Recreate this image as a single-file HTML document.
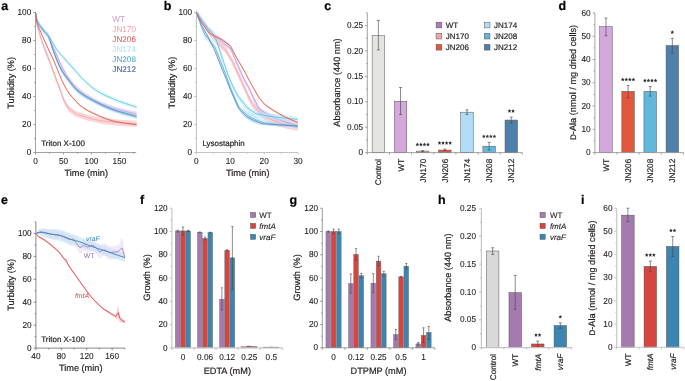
<!DOCTYPE html><html><head><meta charset="utf-8"><style>html,body{margin:0;padding:0;background:#fff;}svg{display:block;}</style></head><body>
<svg width="685" height="381" viewBox="0 0 685 381" font-family='"Liberation Sans", sans-serif'>
<defs><filter id="soft" x="0" y="0" width="100%" height="100%" filterUnits="userSpaceOnUse"><feGaussianBlur stdDeviation="0.3"/></filter></defs>
<rect width="685" height="381" fill="#fff"/>
<g filter="url(#soft)">
<text x="0" y="0" font-size="12.5" text-anchor="start" fill="#000" stroke="#000" stroke-width="0.2" font-weight="bold" transform="translate(1.2 10.3) skewX(0.1)">a</text>
<text x="0" y="0" font-size="12.5" text-anchor="start" fill="#000" stroke="#000" stroke-width="0.2" font-weight="bold" transform="translate(163.8 10.3) skewX(0.1)">b</text>
<text x="0" y="0" font-size="12.5" text-anchor="start" fill="#000" stroke="#000" stroke-width="0.2" font-weight="bold" transform="translate(324.2 10.3) skewX(0.1)">c</text>
<text x="0" y="0" font-size="12.5" text-anchor="start" fill="#000" stroke="#000" stroke-width="0.2" font-weight="bold" transform="translate(558.4 10.3) skewX(0.1)">d</text>
<text x="0" y="0" font-size="12.5" text-anchor="start" fill="#000" stroke="#000" stroke-width="0.2" font-weight="bold" transform="translate(0.9 204.4) skewX(0.1)">e</text>
<text x="0" y="0" font-size="12.5" text-anchor="start" fill="#000" stroke="#000" stroke-width="0.2" font-weight="bold" transform="translate(140 204.4) skewX(0.1)">f</text>
<text x="0" y="0" font-size="12.5" text-anchor="start" fill="#000" stroke="#000" stroke-width="0.2" font-weight="bold" transform="translate(289.4 204.4) skewX(0.1)">g</text>
<text x="0" y="0" font-size="12.5" text-anchor="start" fill="#000" stroke="#000" stroke-width="0.2" font-weight="bold" transform="translate(438 204.4) skewX(0.1)">h</text>
<text x="0" y="0" font-size="12.5" text-anchor="start" fill="#000" stroke="#000" stroke-width="0.2" font-weight="bold" transform="translate(581 204.4) skewX(0.1)">i</text>
<line x1="35.5" y1="152.5" x2="35.5" y2="12.5" stroke="#8a8a8a" stroke-width="0.8"/>
<line x1="33.3" y1="152.5" x2="35.5" y2="152.5" stroke="#8a8a8a" stroke-width="0.8"/>
<text x="0" y="0" font-size="8.7" text-anchor="end" fill="#231f20" stroke="#231f20" stroke-width="0.1" transform="translate(31.3 155.1) skewX(0.1) scale(0.95 1)">0</text>
<line x1="33.3" y1="124.5" x2="35.5" y2="124.5" stroke="#8a8a8a" stroke-width="0.8"/>
<text x="0" y="0" font-size="8.7" text-anchor="end" fill="#231f20" stroke="#231f20" stroke-width="0.1" transform="translate(31.3 127.1) skewX(0.1) scale(0.95 1)">20</text>
<line x1="33.3" y1="96.5" x2="35.5" y2="96.5" stroke="#8a8a8a" stroke-width="0.8"/>
<text x="0" y="0" font-size="8.7" text-anchor="end" fill="#231f20" stroke="#231f20" stroke-width="0.1" transform="translate(31.3 99.1) skewX(0.1) scale(0.95 1)">40</text>
<line x1="33.3" y1="68.5" x2="35.5" y2="68.5" stroke="#8a8a8a" stroke-width="0.8"/>
<text x="0" y="0" font-size="8.7" text-anchor="end" fill="#231f20" stroke="#231f20" stroke-width="0.1" transform="translate(31.3 71.1) skewX(0.1) scale(0.95 1)">60</text>
<line x1="33.3" y1="40.5" x2="35.5" y2="40.5" stroke="#8a8a8a" stroke-width="0.8"/>
<text x="0" y="0" font-size="8.7" text-anchor="end" fill="#231f20" stroke="#231f20" stroke-width="0.1" transform="translate(31.3 43.1) skewX(0.1) scale(0.95 1)">80</text>
<line x1="33.3" y1="12.5" x2="35.5" y2="12.5" stroke="#8a8a8a" stroke-width="0.8"/>
<text x="0" y="0" font-size="8.7" text-anchor="end" fill="#231f20" stroke="#231f20" stroke-width="0.1" transform="translate(31.3 15.1) skewX(0.1) scale(0.95 1)">100</text>
<line x1="34.2" y1="138.5" x2="35.5" y2="138.5" stroke="#8a8a8a" stroke-width="0.8"/>
<line x1="34.2" y1="110.5" x2="35.5" y2="110.5" stroke="#8a8a8a" stroke-width="0.8"/>
<line x1="34.2" y1="82.5" x2="35.5" y2="82.5" stroke="#8a8a8a" stroke-width="0.8"/>
<line x1="34.2" y1="54.5" x2="35.5" y2="54.5" stroke="#8a8a8a" stroke-width="0.8"/>
<line x1="34.2" y1="26.5" x2="35.5" y2="26.5" stroke="#8a8a8a" stroke-width="0.8"/>
<line x1="35.5" y1="152.5" x2="136.21" y2="152.5" stroke="#8a8a8a" stroke-width="0.8"/>
<line x1="35.5" y1="152.5" x2="35.5" y2="154.5" stroke="#8a8a8a" stroke-width="0.8"/>
<text x="0" y="0" font-size="8.7" text-anchor="middle" fill="#231f20" stroke="#231f20" stroke-width="0.1" transform="translate(35.5 163.5) skewX(0.1) scale(0.95 1)">0</text>
<line x1="63.48" y1="152.5" x2="63.48" y2="154.5" stroke="#8a8a8a" stroke-width="0.8"/>
<text x="0" y="0" font-size="8.7" text-anchor="middle" fill="#231f20" stroke="#231f20" stroke-width="0.1" transform="translate(63.48 163.5) skewX(0.1) scale(0.95 1)">50</text>
<line x1="91.45" y1="152.5" x2="91.45" y2="154.5" stroke="#8a8a8a" stroke-width="0.8"/>
<text x="0" y="0" font-size="8.7" text-anchor="middle" fill="#231f20" stroke="#231f20" stroke-width="0.1" transform="translate(91.45 163.5) skewX(0.1) scale(0.95 1)">100</text>
<line x1="119.42" y1="152.5" x2="119.42" y2="154.5" stroke="#8a8a8a" stroke-width="0.8"/>
<text x="0" y="0" font-size="8.7" text-anchor="middle" fill="#231f20" stroke="#231f20" stroke-width="0.1" transform="translate(119.42 163.5) skewX(0.1) scale(0.95 1)">150</text>
<line x1="49.49" y1="152.5" x2="49.49" y2="153.8" stroke="#8a8a8a" stroke-width="0.8"/>
<line x1="77.46" y1="152.5" x2="77.46" y2="153.8" stroke="#8a8a8a" stroke-width="0.8"/>
<line x1="105.44" y1="152.5" x2="105.44" y2="153.8" stroke="#8a8a8a" stroke-width="0.8"/>
<line x1="133.41" y1="152.5" x2="133.41" y2="153.8" stroke="#8a8a8a" stroke-width="0.8"/>
<text x="0" y="0" font-size="9.2" text-anchor="middle" fill="#231f20" stroke="#231f20" stroke-width="0.2" transform="translate(86.2 175.5) skewX(0.1)">Time (min)</text>
<text x="0" y="0" font-size="9.2" text-anchor="middle" fill="#231f20" stroke="#231f20" stroke-width="0.2" transform="translate(13.9 82.8) rotate(-90) skewX(0.1)">Turbidity (%)</text>
<text x="0" y="0" font-size="8" text-anchor="start" fill="#231f20" stroke="#231f20" stroke-width="0.2" transform="translate(41.2 146) skewX(0.1)">Triton X-100</text>
<text x="0" y="0" font-size="8.2" text-anchor="start" fill="#c7a2dc" stroke="#c7a2dc" stroke-width="0.05" transform="translate(112.3 22.2) skewX(0.1)">WT</text>
<text x="0" y="0" font-size="8.2" text-anchor="start" fill="#f0a4a8" stroke="#f0a4a8" stroke-width="0.05" transform="translate(112.3 32.15) skewX(0.1)">JN170</text>
<text x="0" y="0" font-size="8.2" text-anchor="start" fill="#d9625a" stroke="#d9625a" stroke-width="0.05" transform="translate(112.3 42.1) skewX(0.1)">JN206</text>
<text x="0" y="0" font-size="8.2" text-anchor="start" fill="#b4e0f6" stroke="#b4e0f6" stroke-width="0.05" transform="translate(112.3 52.05) skewX(0.1)">JN174</text>
<text x="0" y="0" font-size="8.2" text-anchor="start" fill="#48a8cf" stroke="#48a8cf" stroke-width="0.05" transform="translate(112.3 62) skewX(0.1)">JN208</text>
<text x="0" y="0" font-size="8.2" text-anchor="start" fill="#3d6195" stroke="#3d6195" stroke-width="0.05" transform="translate(112.3 71.95) skewX(0.1)">JN212</text>
<path d="M35.5 9.42 C35.69 11.05 36.15 16.42 36.62 19.22 C37.09 22.02 37.55 23.54 38.3 26.22 C39.04 28.9 39.98 31.94 41.09 35.32 C42.21 38.7 43.68 42.9 45.01 46.52 C46.34 50.14 47.19 51.96 49.1 57.02 C51 62.08 54.59 72 56.43 76.9 C58.26 81.8 58.89 83.08 60.12 86.42 C61.35 89.76 62.43 93.84 63.81 96.92 C65.19 100 66.59 102.73 68.4 104.9 C70.21 107.07 72.57 108.68 74.66 109.94 C76.76 111.2 76.43 111.15 80.99 112.46 C85.55 113.77 92.76 116.38 102.02 117.78 C111.29 119.18 130.84 120.35 136.6 120.86 L136.6 127.02 C130.84 126.51 111.29 125.34 102.02 123.94 C92.76 122.54 85.55 119.93 80.99 118.62 C76.43 117.31 76.76 117.36 74.66 116.1 C72.57 114.84 70.21 113.23 68.4 111.06 C66.59 108.89 65.19 106.16 63.81 103.08 C62.43 100 61.35 95.92 60.12 92.58 C58.89 89.24 58.26 87.96 56.43 83.06 C54.59 78.16 51 68.24 49.1 63.18 C47.19 58.12 46.34 56.3 45.01 52.68 C43.68 49.06 42.21 44.86 41.09 41.48 C39.98 38.1 39.04 35.06 38.3 32.38 C37.55 29.7 37.09 28.18 36.62 25.38 C36.15 22.58 35.69 17.21 35.5 15.58 Z" fill="#f4a9ae" fill-opacity="0.45" stroke="none"/>
<path d="M35.5 12.5 C35.69 14.13 36.15 19.5 36.62 22.3 C37.09 25.1 37.55 26.62 38.3 29.3 C39.04 31.98 39.98 35.02 41.09 38.4 C42.21 41.78 43.68 45.98 45.01 49.6 C46.34 53.22 47.19 55.04 49.1 60.1 C51 65.16 54.59 75.08 56.43 79.98 C58.26 84.88 58.89 86.16 60.12 89.5 C61.35 92.84 62.43 96.92 63.81 100 C65.19 103.08 66.59 105.81 68.4 107.98 C70.21 110.15 72.57 111.76 74.66 113.02 C76.76 114.28 76.43 114.23 80.99 115.54 C85.55 116.85 92.76 119.46 102.02 120.86 C111.29 122.26 130.84 123.43 136.6 123.94" fill="none" stroke="#ef8f96" stroke-width="0.65" stroke-linejoin="round"/>
<path d="M35.5 10.26 C35.78 11.66 36.43 16.44 37.18 18.66 C37.92 20.88 38.77 21.81 39.98 23.56 C41.18 25.31 42.96 27.41 44.4 29.16 C45.83 30.91 47.18 31.61 48.59 34.06 C50 36.51 51.15 39.89 52.84 43.86 C54.54 47.83 57 53.89 58.78 57.86 C60.55 61.83 61.76 64.51 63.48 67.66 C65.19 70.81 66.65 73.49 69.07 76.76 C71.49 80.03 73.94 83.76 78.02 87.26 C82.11 90.76 87.83 94.68 93.58 97.76 C99.32 100.84 105.32 103.41 112.49 105.74 C119.66 108.07 132.58 110.76 136.6 111.76 L136.6 116.24 C132.58 115.24 119.66 112.55 112.49 110.22 C105.32 107.89 99.32 105.32 93.58 102.24 C87.83 99.16 82.11 95.24 78.02 91.74 C73.94 88.24 71.49 84.51 69.07 81.24 C66.65 77.97 65.19 75.29 63.48 72.14 C61.76 68.99 60.55 66.31 58.78 62.34 C57 58.37 54.54 52.31 52.84 48.34 C51.15 44.37 50 40.99 48.59 38.54 C47.18 36.09 45.83 35.39 44.4 33.64 C42.96 31.89 41.18 29.79 39.98 28.04 C38.77 26.29 37.92 25.36 37.18 23.14 C36.43 20.92 35.78 16.14 35.5 14.74 Z" fill="#d6b5ea" fill-opacity="0.5" stroke="none"/>
<path d="M35.5 12.5 C35.78 13.9 36.43 18.68 37.18 20.9 C37.92 23.12 38.77 24.05 39.98 25.8 C41.18 27.55 42.96 29.65 44.4 31.4 C45.83 33.15 47.18 33.85 48.59 36.3 C50 38.75 51.15 42.13 52.84 46.1 C54.54 50.07 57 56.13 58.78 60.1 C60.55 64.07 61.76 66.75 63.48 69.9 C65.19 73.05 66.65 75.73 69.07 79 C71.49 82.27 73.94 86 78.02 89.5 C82.11 93 87.83 96.92 93.58 100 C99.32 103.08 105.32 105.65 112.49 107.98 C119.66 110.31 132.58 113 136.6 114" fill="none" stroke="#b88ad6" stroke-width="0.65" stroke-linejoin="round"/>
<path d="M35.5 10.4 C35.78 11.92 36.43 17.17 37.18 19.5 C37.92 21.83 38.77 22.65 39.98 24.4 C41.18 26.15 42.96 28.18 44.4 30 C45.83 31.82 47.28 32.66 48.59 35.32 C49.91 37.98 50.89 42.06 52.28 45.96 C53.68 49.86 55.31 54.71 56.98 58.7 C58.66 62.69 60.43 66.59 62.36 69.9 C64.29 73.21 65.96 75.31 68.57 78.58 C71.18 81.85 74.02 86.16 78.02 89.5 C82.02 92.84 86.82 95.54 92.57 98.6 C98.31 101.66 105.15 105.11 112.49 107.84 C119.83 110.57 132.58 113.79 136.6 114.98 L136.6 119.18 C132.58 117.99 119.83 114.77 112.49 112.04 C105.15 109.31 98.31 105.86 92.57 102.8 C86.82 99.74 82.02 97.04 78.02 93.7 C74.02 90.36 71.18 86.05 68.57 82.78 C65.96 79.51 64.29 77.41 62.36 74.1 C60.43 70.79 58.66 66.89 56.98 62.9 C55.31 58.91 53.68 54.06 52.28 50.16 C50.89 46.26 49.91 42.18 48.59 39.52 C47.28 36.86 45.83 36.02 44.4 34.2 C42.96 32.38 41.18 30.35 39.98 28.6 C38.77 26.85 37.92 26.03 37.18 23.7 C36.43 21.37 35.78 16.12 35.5 14.6 Z" fill="#9fdcf5" fill-opacity="0.5" stroke="none"/>
<path d="M35.5 12.5 C35.78 14.02 36.43 19.27 37.18 21.6 C37.92 23.93 38.77 24.75 39.98 26.5 C41.18 28.25 42.96 30.28 44.4 32.1 C45.83 33.92 47.28 34.76 48.59 37.42 C49.91 40.08 50.89 44.16 52.28 48.06 C53.68 51.96 55.31 56.81 56.98 60.8 C58.66 64.79 60.43 68.69 62.36 72 C64.29 75.31 65.96 77.41 68.57 80.68 C71.18 83.95 74.02 88.26 78.02 91.6 C82.02 94.94 86.82 97.64 92.57 100.7 C98.31 103.76 105.15 107.21 112.49 109.94 C119.83 112.67 132.58 115.89 136.6 117.08" fill="none" stroke="#3fa6d6" stroke-width="0.65" stroke-linejoin="round"/>
<path d="M35.5 11.1 C35.78 12.55 36.43 17.49 37.18 19.78 C37.92 22.07 38.77 23.05 39.98 24.82 C41.18 26.59 42.96 28.65 44.4 30.42 C45.83 32.19 47.28 32.85 48.59 35.46 C49.91 38.07 50.89 42.23 52.28 46.1 C53.68 49.97 55.31 54.73 56.98 58.7 C58.66 62.67 60.43 66.59 62.36 69.9 C64.29 73.21 65.96 75.31 68.57 78.58 C71.18 81.85 74.02 86.16 78.02 89.5 C82.02 92.84 86.82 95.54 92.57 98.6 C98.31 101.66 105.15 105.11 112.49 107.84 C119.83 110.57 132.58 113.79 136.6 114.98 L136.6 117.78 C132.58 116.59 119.83 113.37 112.49 110.64 C105.15 107.91 98.31 104.46 92.57 101.4 C86.82 98.34 82.02 95.64 78.02 92.3 C74.02 88.96 71.18 84.65 68.57 81.38 C65.96 78.11 64.29 76.01 62.36 72.7 C60.43 69.39 58.66 65.47 56.98 61.5 C55.31 57.53 53.68 52.77 52.28 48.9 C50.89 45.03 49.91 40.87 48.59 38.26 C47.28 35.65 45.83 34.99 44.4 33.22 C42.96 31.45 41.18 29.39 39.98 27.62 C38.77 25.85 37.92 24.87 37.18 22.58 C36.43 20.29 35.78 15.35 35.5 13.9 Z" fill="#a8c8ea" fill-opacity="0.4" stroke="none"/>
<path d="M35.5 12.5 C35.78 13.95 36.43 18.89 37.18 21.18 C37.92 23.47 38.77 24.45 39.98 26.22 C41.18 27.99 42.96 30.05 44.4 31.82 C45.83 33.59 47.28 34.25 48.59 36.86 C49.91 39.47 50.89 43.63 52.28 47.5 C53.68 51.37 55.31 56.13 56.98 60.1 C58.66 64.07 60.43 67.99 62.36 71.3 C64.29 74.61 65.96 76.71 68.57 79.98 C71.18 83.25 74.02 87.56 78.02 90.9 C82.02 94.24 86.82 96.94 92.57 100 C98.31 103.06 105.15 106.51 112.49 109.24 C119.83 111.97 132.58 115.19 136.6 116.38" fill="none" stroke="#4274b0" stroke-width="0.65" stroke-linejoin="round"/>
<path d="M35.5 10.4 C35.78 11.68 36.43 16 37.18 18.1 C37.92 20.2 38.77 21.25 39.98 23 C41.18 24.75 42.96 26.85 44.4 28.6 C45.83 30.35 47 31.17 48.59 33.5 C50.19 35.83 52.42 40.03 53.96 42.6 C55.51 45.17 55.91 46.33 57.88 48.9 C59.85 51.47 62.97 54.85 65.77 58 C68.57 61.15 71.66 64.49 74.66 67.8 C77.67 71.11 80.05 74.38 83.78 77.88 C87.51 81.38 91.69 85.46 97.05 88.8 C102.4 92.14 109.31 95.19 115.9 97.9 C122.49 100.61 133.15 103.85 136.6 105.04 L136.6 109.24 C133.15 108.05 122.49 104.81 115.9 102.1 C109.31 99.39 102.4 96.34 97.05 93 C91.69 89.66 87.51 85.58 83.78 82.08 C80.05 78.58 77.67 75.31 74.66 72 C71.66 68.69 68.57 65.35 65.77 62.2 C62.97 59.05 59.85 55.67 57.88 53.1 C55.91 50.53 55.51 49.37 53.96 46.8 C52.42 44.23 50.19 40.03 48.59 37.7 C47 35.37 45.83 34.55 44.4 32.8 C42.96 31.05 41.18 28.95 39.98 27.2 C38.77 25.45 37.92 24.4 37.18 22.3 C36.43 20.2 35.78 15.88 35.5 14.6 Z" fill="#b4e8f8" fill-opacity="0.45" stroke="none"/>
<path d="M35.5 12.5 C35.78 13.78 36.43 18.1 37.18 20.2 C37.92 22.3 38.77 23.35 39.98 25.1 C41.18 26.85 42.96 28.95 44.4 30.7 C45.83 32.45 47 33.27 48.59 35.6 C50.19 37.93 52.42 42.13 53.96 44.7 C55.51 47.27 55.91 48.43 57.88 51 C59.85 53.57 62.97 56.95 65.77 60.1 C68.57 63.25 71.66 66.59 74.66 69.9 C77.67 73.21 80.05 76.48 83.78 79.98 C87.51 83.48 91.69 87.56 97.05 90.9 C102.4 94.24 109.31 97.29 115.9 100 C122.49 102.71 133.15 105.95 136.6 107.14" fill="none" stroke="#40bbdf" stroke-width="0.65" stroke-linejoin="round"/>
<path d="M35.5 11.38 C35.69 12.78 36.15 17.45 36.62 19.78 C37.09 22.11 37.55 23.4 38.3 25.38 C39.04 27.36 39.7 28.53 41.09 31.68 C42.49 34.83 44.62 39.73 46.69 44.28 C48.76 48.83 51.03 53.26 53.52 58.98 C56.01 64.7 59.5 73.8 61.63 78.58 C63.75 83.36 64.85 85.16 66.27 87.68 C67.7 90.2 68.73 91.83 70.19 93.7 C71.64 95.57 73.32 97.08 75 98.88 C76.68 100.68 77.52 102.4 80.26 104.48 C83 106.56 86.08 108.8 91.45 111.34 C96.82 113.88 104.96 117.71 112.49 119.74 C120.01 121.77 132.58 122.89 136.6 123.52 L136.6 125.76 C132.58 125.13 120.01 124.01 112.49 121.98 C104.96 119.95 96.82 116.12 91.45 113.58 C86.08 111.04 83 108.8 80.26 106.72 C77.52 104.64 76.68 102.92 75 101.12 C73.32 99.32 71.64 97.81 70.19 95.94 C68.73 94.07 67.7 92.44 66.27 89.92 C64.85 87.4 63.75 85.6 61.63 80.82 C59.5 76.04 56.01 66.94 53.52 61.22 C51.03 55.5 48.76 51.07 46.69 46.52 C44.62 41.97 42.49 37.07 41.09 33.92 C39.7 30.77 39.04 29.6 38.3 27.62 C37.55 25.64 37.09 24.35 36.62 22.02 C36.15 19.69 35.69 15.02 35.5 13.62 Z" fill="#f0a090" fill-opacity="0.4" stroke="none"/>
<path d="M35.5 12.5 C35.69 13.9 36.15 18.57 36.62 20.9 C37.09 23.23 37.55 24.52 38.3 26.5 C39.04 28.48 39.7 29.65 41.09 32.8 C42.49 35.95 44.62 40.85 46.69 45.4 C48.76 49.95 51.03 54.38 53.52 60.1 C56.01 65.82 59.5 74.92 61.63 79.7 C63.75 84.48 64.85 86.28 66.27 88.8 C67.7 91.32 68.73 92.95 70.19 94.82 C71.64 96.69 73.32 98.2 75 100 C76.68 101.8 77.52 103.52 80.26 105.6 C83 107.68 86.08 109.92 91.45 112.46 C96.82 115 104.96 118.83 112.49 120.86 C120.01 122.89 132.58 124.01 136.6 124.64" fill="none" stroke="#e05548" stroke-width="0.8" stroke-linejoin="round"/>
<line x1="196.4" y1="152.5" x2="196.4" y2="12.5" stroke="#c4c4c4" stroke-width="1.1"/>
<line x1="194.2" y1="152.5" x2="196.4" y2="152.5" stroke="#c4c4c4" stroke-width="1.1"/>
<text x="0" y="0" font-size="8.7" text-anchor="end" fill="#231f20" stroke="#231f20" stroke-width="0.1" transform="translate(192.2 155.1) skewX(0.1) scale(0.95 1)">0</text>
<line x1="194.2" y1="124.5" x2="196.4" y2="124.5" stroke="#c4c4c4" stroke-width="1.1"/>
<text x="0" y="0" font-size="8.7" text-anchor="end" fill="#231f20" stroke="#231f20" stroke-width="0.1" transform="translate(192.2 127.1) skewX(0.1) scale(0.95 1)">20</text>
<line x1="194.2" y1="96.5" x2="196.4" y2="96.5" stroke="#c4c4c4" stroke-width="1.1"/>
<text x="0" y="0" font-size="8.7" text-anchor="end" fill="#231f20" stroke="#231f20" stroke-width="0.1" transform="translate(192.2 99.1) skewX(0.1) scale(0.95 1)">40</text>
<line x1="194.2" y1="68.5" x2="196.4" y2="68.5" stroke="#c4c4c4" stroke-width="1.1"/>
<text x="0" y="0" font-size="8.7" text-anchor="end" fill="#231f20" stroke="#231f20" stroke-width="0.1" transform="translate(192.2 71.1) skewX(0.1) scale(0.95 1)">60</text>
<line x1="194.2" y1="40.5" x2="196.4" y2="40.5" stroke="#c4c4c4" stroke-width="1.1"/>
<text x="0" y="0" font-size="8.7" text-anchor="end" fill="#231f20" stroke="#231f20" stroke-width="0.1" transform="translate(192.2 43.1) skewX(0.1) scale(0.95 1)">80</text>
<line x1="194.2" y1="12.5" x2="196.4" y2="12.5" stroke="#c4c4c4" stroke-width="1.1"/>
<text x="0" y="0" font-size="8.7" text-anchor="end" fill="#231f20" stroke="#231f20" stroke-width="0.1" transform="translate(192.2 15.1) skewX(0.1) scale(0.95 1)">100</text>
<line x1="195.1" y1="138.5" x2="196.4" y2="138.5" stroke="#c4c4c4" stroke-width="1.1"/>
<line x1="195.1" y1="110.5" x2="196.4" y2="110.5" stroke="#c4c4c4" stroke-width="1.1"/>
<line x1="195.1" y1="82.5" x2="196.4" y2="82.5" stroke="#c4c4c4" stroke-width="1.1"/>
<line x1="195.1" y1="54.5" x2="196.4" y2="54.5" stroke="#c4c4c4" stroke-width="1.1"/>
<line x1="195.1" y1="26.5" x2="196.4" y2="26.5" stroke="#c4c4c4" stroke-width="1.1"/>
<line x1="196.4" y1="152.5" x2="298.1" y2="152.5" stroke="#c4c4c4" stroke-width="1.1"/>
<line x1="196.4" y1="152.5" x2="196.4" y2="154.5" stroke="#c4c4c4" stroke-width="1.1"/>
<text x="0" y="0" font-size="8.7" text-anchor="middle" fill="#231f20" stroke="#231f20" stroke-width="0.1" transform="translate(196.4 163.5) skewX(0.1) scale(0.95 1)">0</text>
<line x1="230.3" y1="152.5" x2="230.3" y2="154.5" stroke="#c4c4c4" stroke-width="1.1"/>
<text x="0" y="0" font-size="8.7" text-anchor="middle" fill="#231f20" stroke="#231f20" stroke-width="0.1" transform="translate(230.3 163.5) skewX(0.1) scale(0.95 1)">10</text>
<line x1="264.2" y1="152.5" x2="264.2" y2="154.5" stroke="#c4c4c4" stroke-width="1.1"/>
<text x="0" y="0" font-size="8.7" text-anchor="middle" fill="#231f20" stroke="#231f20" stroke-width="0.1" transform="translate(264.2 163.5) skewX(0.1) scale(0.95 1)">20</text>
<line x1="298.1" y1="152.5" x2="298.1" y2="154.5" stroke="#c4c4c4" stroke-width="1.1"/>
<text x="0" y="0" font-size="8.7" text-anchor="middle" fill="#231f20" stroke="#231f20" stroke-width="0.1" transform="translate(298.1 163.5) skewX(0.1) scale(0.95 1)">30</text>
<line x1="213.35" y1="152.5" x2="213.35" y2="153.8" stroke="#c4c4c4" stroke-width="1.1"/>
<line x1="247.25" y1="152.5" x2="247.25" y2="153.8" stroke="#c4c4c4" stroke-width="1.1"/>
<line x1="281.15" y1="152.5" x2="281.15" y2="153.8" stroke="#c4c4c4" stroke-width="1.1"/>
<text x="0" y="0" font-size="9.2" text-anchor="middle" fill="#231f20" stroke="#231f20" stroke-width="0.2" transform="translate(247.7 175.5) skewX(0.1)">Time (min)</text>
<text x="0" y="0" font-size="9.2" text-anchor="middle" fill="#231f20" stroke="#231f20" stroke-width="0.2" transform="translate(175 82.6) rotate(-90) skewX(0.1)">Turbidity (%)</text>
<text x="0" y="0" font-size="8" text-anchor="start" fill="#231f20" stroke="#231f20" stroke-width="0.2" transform="translate(202.4 146) skewX(0.1)">Lysostaphin</text>
<path d="M196.4 9 C198.04 11.45 202.7 18.68 206.23 23.7 C209.76 28.72 214.42 35.37 217.59 39.1 C220.75 42.83 222.76 42.95 225.22 46.1 C227.67 49.25 229.85 53.22 232.33 58 C234.82 62.78 238.04 70.25 240.13 74.8 C242.22 79.35 242.96 81.17 244.88 85.3 C246.8 89.43 249.28 95.73 251.66 99.58 C254.03 103.43 256.69 106 259.12 108.4 C261.54 110.8 262.56 112.02 266.23 114 C269.91 115.98 275.9 118.64 281.15 120.3 C286.4 121.96 294.99 123.33 297.76 123.94 L297.76 130.94 C294.99 130.33 286.4 128.96 281.15 127.3 C275.9 125.64 269.91 122.98 266.23 121 C262.56 119.02 261.54 117.8 259.12 115.4 C256.69 113 254.03 110.43 251.66 106.58 C249.28 102.73 246.8 96.43 244.88 92.3 C242.96 88.17 242.22 86.35 240.13 81.8 C238.04 77.25 234.82 69.78 232.33 65 C229.85 60.22 227.67 56.25 225.22 53.1 C222.76 49.95 220.75 49.83 217.59 46.1 C214.42 42.37 209.76 35.72 206.23 30.7 C202.7 25.68 198.04 18.45 196.4 16 Z" fill="#f4a9ae" fill-opacity="0.45" stroke="none"/>
<path d="M196.4 12.5 L206.23 27.2 L217.59 42.6 L225.22 49.6 L232.33 61.5 L240.13 78.3 L244.88 88.8 L251.66 103.08 L259.12 111.9 L266.23 117.5 L281.15 123.8 L297.76 127.44" fill="none" stroke="#ef8f96" stroke-width="0.65" stroke-linejoin="round"/>
<path d="M196.4 9.7 C198.09 12.27 203.58 21.27 206.57 25.1 C209.56 28.93 212.05 30.56 214.37 32.66 C216.68 34.76 217.76 35.46 220.47 37.7 C223.18 39.94 227.64 41.71 230.64 46.1 C233.63 50.49 236.23 59 238.44 64.02 C240.64 69.04 242.11 72.65 243.86 76.2 C245.61 79.75 246.46 80.4 248.94 85.3 C251.43 90.2 255.67 101.17 258.78 105.6 C261.88 110.03 264.43 110.13 267.59 111.9 C270.75 113.67 272.73 114.33 277.76 116.24 C282.79 118.15 294.43 122.19 297.76 123.38 L297.76 128.98 C294.43 127.79 282.79 123.75 277.76 121.84 C272.73 119.93 270.75 119.27 267.59 117.5 C264.43 115.73 261.88 115.63 258.78 111.2 C255.67 106.77 251.43 95.8 248.94 90.9 C246.46 86 245.61 85.35 243.86 81.8 C242.11 78.25 240.64 74.64 238.44 69.62 C236.23 64.6 233.63 56.09 230.64 51.7 C227.64 47.31 223.18 45.54 220.47 43.3 C217.76 41.06 216.68 40.36 214.37 38.26 C212.05 36.16 209.56 34.53 206.57 30.7 C203.58 26.87 198.09 17.87 196.4 15.3 Z" fill="#d6b5ea" fill-opacity="0.5" stroke="none"/>
<path d="M196.4 12.5 L206.57 27.9 L214.37 35.46 L220.47 40.5 L230.64 48.9 L238.44 66.82 L243.86 79 L248.94 88.1 L258.78 108.4 L267.59 114.7 L277.76 119.04 L297.76 126.18" fill="none" stroke="#b88ad6" stroke-width="0.65" stroke-linejoin="round"/>
<path d="M196.4 9.7 C197.53 11.33 200.86 16.35 203.18 19.5 C205.5 22.65 208.32 26.27 210.3 28.6 C212.28 30.93 212.79 28.25 215.05 33.5 C217.31 38.75 221.37 52.82 223.86 60.1 C226.34 67.38 228.15 72.63 229.96 77.18 C231.77 81.73 233.24 84.51 234.71 87.4 C236.18 90.29 236.68 91.62 238.78 94.54 C240.87 97.46 244.37 102.15 247.25 104.9 C250.13 107.65 251.71 109.54 256.06 111.06 C260.41 112.58 266.4 113.07 273.35 114 C280.3 114.93 293.69 116.22 297.76 116.66 L297.76 122.26 C293.69 121.82 280.3 120.53 273.35 119.6 C266.4 118.67 260.41 118.18 256.06 116.66 C251.71 115.14 250.13 113.25 247.25 110.5 C244.37 107.75 240.87 103.06 238.78 100.14 C236.68 97.22 236.18 95.89 234.71 93 C233.24 90.11 231.77 87.33 229.96 82.78 C228.15 78.23 226.34 72.98 223.86 65.7 C221.37 58.42 217.31 44.35 215.05 39.1 C212.79 33.85 212.28 36.53 210.3 34.2 C208.32 31.87 205.5 28.25 203.18 25.1 C200.86 21.95 197.53 16.93 196.4 15.3 Z" fill="#aee6f8" fill-opacity="0.55" stroke="none"/>
<path d="M196.4 12.5 L203.18 22.3 L210.3 31.4 L215.05 36.3 L223.86 62.9 L229.96 79.98 L234.71 90.2 L238.78 97.34 L247.25 107.7 L256.06 113.86 L273.35 116.8 L297.76 119.46" fill="none" stroke="#3cbce0" stroke-width="0.65" stroke-linejoin="round"/>
<path d="M196.4 12.08 C197.13 13.9 199.39 19.78 200.81 23 C202.22 26.22 203.75 29.53 204.88 31.4 C206 33.27 205.89 31.98 207.59 34.2 C209.28 36.42 212.45 39.57 215.05 44.7 C217.64 49.83 220.53 58.12 223.18 65 C225.84 71.88 228.32 79.35 230.98 86 C233.63 92.65 236.29 100.61 239.11 104.9 C241.94 109.19 245.16 109.92 247.93 111.76 C250.7 113.6 253.01 114.54 255.73 115.96 C258.44 117.38 260.53 119.23 264.2 120.3 C267.87 121.37 272.17 121.82 277.76 122.4 C283.35 122.98 294.43 123.57 297.76 123.8 L297.76 128 C294.43 127.77 283.35 127.04 277.76 126.6 C272.17 126.16 267.87 125.81 264.2 125.34 C260.53 124.87 258.44 124.76 255.73 123.8 C253.01 122.84 250.7 121.82 247.93 119.6 C245.16 117.38 241.94 115.17 239.11 110.5 C236.29 105.83 233.63 98.25 230.98 91.6 C228.32 84.95 225.84 77.48 223.18 70.6 C220.53 63.72 217.64 55.2 215.05 50.3 C212.45 45.4 209.28 43.18 207.59 41.2 C205.89 39.22 206 40.73 204.88 38.4 C203.75 36.07 202.22 31.45 200.81 27.2 C199.39 22.95 197.13 15.3 196.4 12.92 Z" fill="#9fdcf5" fill-opacity="0.5" stroke="none"/>
<path d="M196.4 12.5 L200.81 25.1 L204.88 34.9 L207.59 37.7 L215.05 47.5 L223.18 67.8 L230.98 88.8 L239.11 107.7 L247.93 115.68 L255.73 119.88 L264.2 122.82 L277.76 124.5 L297.76 125.9" fill="none" stroke="#3fa6d6" stroke-width="0.65" stroke-linejoin="round"/>
<path d="M196.4 11.1 C197.25 13.2 199.85 20.2 201.49 23.7 C203.12 27.2 204.08 27.99 206.23 32.1 C208.38 36.21 211.66 42.25 214.37 48.34 C217.08 54.43 219.79 61.87 222.5 68.64 C225.22 75.41 227.93 82.5 230.64 88.94 C233.35 95.38 236.06 102.87 238.78 107.28 C241.49 111.69 244.37 113.42 246.91 115.4 C249.45 117.38 251.32 118.01 254.03 119.18 C256.74 120.35 259.23 121.7 263.18 122.4 C267.14 123.1 272 123.01 277.76 123.38 C283.52 123.75 294.43 124.43 297.76 124.64 L297.76 127.44 C294.43 127.23 283.52 126.55 277.76 126.18 C272 125.81 267.14 125.9 263.18 125.2 C259.23 124.5 256.74 123.15 254.03 121.98 C251.32 120.81 249.45 120.18 246.91 118.2 C244.37 116.22 241.49 114.49 238.78 110.08 C236.06 105.67 233.35 98.18 230.64 91.74 C227.93 85.3 225.22 78.21 222.5 71.44 C219.79 64.67 217.08 57.23 214.37 51.14 C211.66 45.05 208.38 39.01 206.23 34.9 C204.08 30.79 203.12 30 201.49 26.5 C199.85 23 197.25 16 196.4 13.9 Z" fill="#a8c8ea" fill-opacity="0.4" stroke="none"/>
<path d="M196.4 12.5 L201.49 25.1 L206.23 33.5 L214.37 49.74 L222.5 70.04 L230.64 90.34 L238.78 108.68 L246.91 116.8 L254.03 120.58 L263.18 123.8 L277.76 124.78 L297.76 126.04" fill="none" stroke="#4274b0" stroke-width="0.65" stroke-linejoin="round"/>
<path d="M196.4 11.38 C197.25 13.01 199.34 17.73 201.49 21.18 C203.63 24.63 207.02 29.77 209.28 32.1 C211.54 34.43 212.95 34.13 215.05 35.18 C217.14 36.23 219.28 36.81 221.83 38.4 C224.37 39.99 227.87 41.74 230.3 44.7 C232.73 47.66 233.97 51.82 236.4 56.18 C238.83 60.54 242.79 67.1 244.88 70.88 C246.97 74.66 246.63 74.64 248.94 78.86 C251.26 83.08 256.06 92.07 258.78 96.22 C261.49 100.37 262.79 101.61 265.22 103.78 C267.65 105.95 270.13 107.26 273.35 109.24 C276.57 111.22 280.47 113.65 284.54 115.68 C288.61 117.71 295.56 120.46 297.76 121.42 L297.76 123.66 C295.56 122.7 288.61 119.95 284.54 117.92 C280.47 115.89 276.57 113.46 273.35 111.48 C270.13 109.5 267.65 108.19 265.22 106.02 C262.79 103.85 261.49 102.61 258.78 98.46 C256.06 94.31 251.26 85.32 248.94 81.1 C246.63 76.88 246.97 76.9 244.88 73.12 C242.79 69.34 238.83 62.78 236.4 58.42 C233.97 54.06 232.73 49.9 230.3 46.94 C227.87 43.98 224.37 42.23 221.83 40.64 C219.28 39.05 217.14 38.47 215.05 37.42 C212.95 36.37 211.54 36.67 209.28 34.34 C207.02 32.01 203.63 26.87 201.49 23.42 C199.34 19.97 197.25 15.25 196.4 13.62 Z" fill="#f0a090" fill-opacity="0.4" stroke="none"/>
<path d="M196.4 12.5 L201.49 22.3 L209.28 33.22 L215.05 36.3 L221.83 39.52 L230.3 45.82 L236.4 57.3 L244.88 72 L248.94 79.98 L258.78 97.34 L265.22 104.9 L273.35 110.36 L284.54 116.8 L297.76 122.54" fill="none" stroke="#e05548" stroke-width="0.8" stroke-linejoin="round"/>
<line x1="367.3" y1="152.6" x2="367.3" y2="12.79" stroke="#8c8c8c" stroke-width="0.8"/>
<line x1="365.1" y1="152.6" x2="367.3" y2="152.6" stroke="#8c8c8c" stroke-width="0.8"/>
<text x="0" y="0" font-size="8.7" text-anchor="end" fill="#231f20" stroke="#231f20" stroke-width="0.1" transform="translate(363.1 155.2) skewX(0.1) scale(0.95 1)">0</text>
<line x1="365.1" y1="127.18" x2="367.3" y2="127.18" stroke="#8c8c8c" stroke-width="0.8"/>
<text x="0" y="0" font-size="8.7" text-anchor="end" fill="#231f20" stroke="#231f20" stroke-width="0.1" transform="translate(363.1 129.78) skewX(0.1) scale(0.95 1)">0.05</text>
<line x1="365.1" y1="101.76" x2="367.3" y2="101.76" stroke="#8c8c8c" stroke-width="0.8"/>
<text x="0" y="0" font-size="8.7" text-anchor="end" fill="#231f20" stroke="#231f20" stroke-width="0.1" transform="translate(363.1 104.36) skewX(0.1) scale(0.95 1)">0.10</text>
<line x1="365.1" y1="76.34" x2="367.3" y2="76.34" stroke="#8c8c8c" stroke-width="0.8"/>
<text x="0" y="0" font-size="8.7" text-anchor="end" fill="#231f20" stroke="#231f20" stroke-width="0.1" transform="translate(363.1 78.94) skewX(0.1) scale(0.95 1)">0.15</text>
<line x1="365.1" y1="50.92" x2="367.3" y2="50.92" stroke="#8c8c8c" stroke-width="0.8"/>
<text x="0" y="0" font-size="8.7" text-anchor="end" fill="#231f20" stroke="#231f20" stroke-width="0.1" transform="translate(363.1 53.52) skewX(0.1) scale(0.95 1)">0.20</text>
<line x1="365.1" y1="25.5" x2="367.3" y2="25.5" stroke="#8c8c8c" stroke-width="0.8"/>
<text x="0" y="0" font-size="8.7" text-anchor="end" fill="#231f20" stroke="#231f20" stroke-width="0.1" transform="translate(363.1 28.1) skewX(0.1) scale(0.95 1)">0.25</text>
<line x1="366" y1="139.89" x2="367.3" y2="139.89" stroke="#8c8c8c" stroke-width="0.8"/>
<line x1="366" y1="114.47" x2="367.3" y2="114.47" stroke="#8c8c8c" stroke-width="0.8"/>
<line x1="366" y1="89.05" x2="367.3" y2="89.05" stroke="#8c8c8c" stroke-width="0.8"/>
<line x1="366" y1="63.63" x2="367.3" y2="63.63" stroke="#8c8c8c" stroke-width="0.8"/>
<line x1="366" y1="38.21" x2="367.3" y2="38.21" stroke="#8c8c8c" stroke-width="0.8"/>
<line x1="366" y1="12.79" x2="367.3" y2="12.79" stroke="#8c8c8c" stroke-width="0.8"/>
<rect x="372.12" y="35.67" width="12.5" height="116.93" fill="#e4e4e2" stroke="#555" stroke-width="0.5"/>
<line x1="378.38" y1="20.42" x2="378.38" y2="49.9" stroke="#4a4a4a" stroke-width="0.7" stroke-opacity="0.9"/>
<line x1="376.88" y1="20.42" x2="379.88" y2="20.42" stroke="#4a4a4a" stroke-width="0.7" stroke-opacity="0.9"/>
<line x1="376.88" y1="49.9" x2="379.88" y2="49.9" stroke="#4a4a4a" stroke-width="0.7" stroke-opacity="0.9"/>
<rect x="394.27" y="101.25" width="12.5" height="51.35" fill="#d4a8dc" stroke="#555" stroke-width="0.5"/>
<line x1="400.52" y1="87.52" x2="400.52" y2="114.47" stroke="#4a4a4a" stroke-width="0.7" stroke-opacity="0.9"/>
<line x1="399.02" y1="87.52" x2="402.02" y2="87.52" stroke="#4a4a4a" stroke-width="0.7" stroke-opacity="0.9"/>
<line x1="399.02" y1="114.47" x2="402.02" y2="114.47" stroke="#4a4a4a" stroke-width="0.7" stroke-opacity="0.9"/>
<rect x="416.43" y="151.07" width="12.5" height="1.53" fill="#f4a3a6" stroke="#555" stroke-width="0.5"/>
<line x1="422.68" y1="150.57" x2="422.68" y2="151.58" stroke="#4a4a4a" stroke-width="0.7" stroke-opacity="0.9"/>
<line x1="421.18" y1="150.57" x2="424.18" y2="150.57" stroke="#4a4a4a" stroke-width="0.7" stroke-opacity="0.9"/>
<line x1="421.18" y1="151.58" x2="424.18" y2="151.58" stroke="#4a4a4a" stroke-width="0.7" stroke-opacity="0.9"/>
<polygon points="417.35,142.57 417.88,143.84 419.25,143.95 418.21,144.84 418.53,146.18 417.35,145.47 416.17,146.18 416.49,144.84 415.45,143.95 416.82,143.84" fill="#2a2a2a"/>
<polygon points="420.9,142.57 421.43,143.84 422.8,143.95 421.76,144.84 422.08,146.18 420.9,145.47 419.72,146.18 420.04,144.84 419,143.95 420.37,143.84" fill="#2a2a2a"/>
<polygon points="424.45,142.57 424.98,143.84 426.35,143.95 425.31,144.84 425.63,146.18 424.45,145.47 423.27,146.18 423.59,144.84 422.55,143.95 423.92,143.84" fill="#2a2a2a"/>
<polygon points="428,142.57 428.53,143.84 429.9,143.95 428.86,144.84 429.18,146.18 428,145.47 426.82,146.18 427.14,144.84 426.1,143.95 427.47,143.84" fill="#2a2a2a"/>
<rect x="438.57" y="150.06" width="12.5" height="2.54" fill="#e2573e" stroke="#555" stroke-width="0.5"/>
<line x1="444.82" y1="149.04" x2="444.82" y2="150.57" stroke="#4a4a4a" stroke-width="0.7" stroke-opacity="0.9"/>
<line x1="443.32" y1="149.04" x2="446.32" y2="149.04" stroke="#4a4a4a" stroke-width="0.7" stroke-opacity="0.9"/>
<line x1="443.32" y1="150.57" x2="446.32" y2="150.57" stroke="#4a4a4a" stroke-width="0.7" stroke-opacity="0.9"/>
<polygon points="439.5,141.04 440.03,142.31 441.4,142.42 440.36,143.32 440.68,144.66 439.5,143.94 438.32,144.66 438.64,143.32 437.6,142.42 438.97,142.31" fill="#2a2a2a"/>
<polygon points="443.05,141.04 443.58,142.31 444.95,142.42 443.91,143.32 444.23,144.66 443.05,143.94 441.87,144.66 442.19,143.32 441.15,142.42 442.52,142.31" fill="#2a2a2a"/>
<polygon points="446.6,141.04 447.13,142.31 448.5,142.42 447.46,143.32 447.78,144.66 446.6,143.94 445.42,144.66 445.74,143.32 444.7,142.42 446.07,142.31" fill="#2a2a2a"/>
<polygon points="450.15,141.04 450.68,142.31 452.05,142.42 451.01,143.32 451.33,144.66 450.15,143.94 448.97,144.66 449.29,143.32 448.25,142.42 449.62,142.31" fill="#2a2a2a"/>
<rect x="460.73" y="112.18" width="12.5" height="40.42" fill="#b0dcf8" stroke="#555" stroke-width="0.5"/>
<line x1="466.98" y1="109.89" x2="466.98" y2="114.47" stroke="#4a4a4a" stroke-width="0.7" stroke-opacity="0.9"/>
<line x1="465.48" y1="109.89" x2="468.48" y2="109.89" stroke="#4a4a4a" stroke-width="0.7" stroke-opacity="0.9"/>
<line x1="465.48" y1="114.47" x2="468.48" y2="114.47" stroke="#4a4a4a" stroke-width="0.7" stroke-opacity="0.9"/>
<rect x="482.88" y="146.19" width="12.5" height="6.41" fill="#60b8dc" stroke="#555" stroke-width="0.5"/>
<line x1="489.12" y1="142.43" x2="489.12" y2="150.06" stroke="#4a4a4a" stroke-width="0.7" stroke-opacity="0.9"/>
<line x1="487.62" y1="142.43" x2="490.62" y2="142.43" stroke="#4a4a4a" stroke-width="0.7" stroke-opacity="0.9"/>
<line x1="487.62" y1="150.06" x2="490.62" y2="150.06" stroke="#4a4a4a" stroke-width="0.7" stroke-opacity="0.9"/>
<polygon points="483.8,134.43 484.33,135.7 485.7,135.81 484.66,136.71 484.98,138.05 483.8,137.33 482.62,138.05 482.94,136.71 481.9,135.81 483.27,135.7" fill="#2a2a2a"/>
<polygon points="487.35,134.43 487.88,135.7 489.25,135.81 488.21,136.71 488.53,138.05 487.35,137.33 486.17,138.05 486.49,136.71 485.45,135.81 486.82,135.7" fill="#2a2a2a"/>
<polygon points="490.9,134.43 491.43,135.7 492.8,135.81 491.76,136.71 492.08,138.05 490.9,137.33 489.72,138.05 490.04,136.71 489,135.81 490.37,135.7" fill="#2a2a2a"/>
<polygon points="494.45,134.43 494.98,135.7 496.35,135.81 495.31,136.71 495.63,138.05 494.45,137.33 493.27,138.05 493.59,136.71 492.55,135.81 493.92,135.7" fill="#2a2a2a"/>
<rect x="505.02" y="120.06" width="12.5" height="32.54" fill="#4f80ab" stroke="#555" stroke-width="0.5"/>
<line x1="511.27" y1="117.01" x2="511.27" y2="123.11" stroke="#4a4a4a" stroke-width="0.7" stroke-opacity="0.9"/>
<line x1="509.77" y1="117.01" x2="512.77" y2="117.01" stroke="#4a4a4a" stroke-width="0.7" stroke-opacity="0.9"/>
<line x1="509.77" y1="123.11" x2="512.77" y2="123.11" stroke="#4a4a4a" stroke-width="0.7" stroke-opacity="0.9"/>
<polygon points="509.5,109.01 510.03,110.28 511.4,110.39 510.36,111.29 510.68,112.63 509.5,111.91 508.32,112.63 508.64,111.29 507.6,110.39 508.97,110.28" fill="#2a2a2a"/>
<polygon points="513.05,109.01 513.58,110.28 514.95,110.39 513.91,111.29 514.23,112.63 513.05,111.91 511.87,112.63 512.19,111.29 511.15,110.39 512.52,110.28" fill="#2a2a2a"/>
<line x1="367.3" y1="152.6" x2="522.35" y2="152.6" stroke="#8c8c8c" stroke-width="0.8"/>
<line x1="367.3" y1="152.6" x2="367.3" y2="154.6" stroke="#8c8c8c" stroke-width="0.8"/>
<line x1="389.45" y1="152.6" x2="389.45" y2="154.6" stroke="#8c8c8c" stroke-width="0.8"/>
<line x1="411.6" y1="152.6" x2="411.6" y2="154.6" stroke="#8c8c8c" stroke-width="0.8"/>
<line x1="433.75" y1="152.6" x2="433.75" y2="154.6" stroke="#8c8c8c" stroke-width="0.8"/>
<line x1="455.9" y1="152.6" x2="455.9" y2="154.6" stroke="#8c8c8c" stroke-width="0.8"/>
<line x1="478.05" y1="152.6" x2="478.05" y2="154.6" stroke="#8c8c8c" stroke-width="0.8"/>
<line x1="500.2" y1="152.6" x2="500.2" y2="154.6" stroke="#8c8c8c" stroke-width="0.8"/>
<line x1="522.35" y1="152.6" x2="522.35" y2="154.6" stroke="#8c8c8c" stroke-width="0.8"/>
<text x="0" y="0" font-size="8.2" text-anchor="end" fill="#231f20" stroke="#231f20" stroke-width="0.2" transform="translate(381.38 158.8) rotate(-90) skewX(0.1)">Control</text>
<text x="0" y="0" font-size="8.2" text-anchor="end" fill="#231f20" stroke="#231f20" stroke-width="0.2" transform="translate(403.52 158.8) rotate(-90) skewX(0.1)">WT</text>
<text x="0" y="0" font-size="8.2" text-anchor="end" fill="#231f20" stroke="#231f20" stroke-width="0.2" transform="translate(425.68 158.8) rotate(-90) skewX(0.1)">JN170</text>
<text x="0" y="0" font-size="8.2" text-anchor="end" fill="#231f20" stroke="#231f20" stroke-width="0.2" transform="translate(447.82 158.8) rotate(-90) skewX(0.1)">JN206</text>
<text x="0" y="0" font-size="8.2" text-anchor="end" fill="#231f20" stroke="#231f20" stroke-width="0.2" transform="translate(469.98 158.8) rotate(-90) skewX(0.1)">JN174</text>
<text x="0" y="0" font-size="8.2" text-anchor="end" fill="#231f20" stroke="#231f20" stroke-width="0.2" transform="translate(492.12 158.8) rotate(-90) skewX(0.1)">JN208</text>
<text x="0" y="0" font-size="8.2" text-anchor="end" fill="#231f20" stroke="#231f20" stroke-width="0.2" transform="translate(514.27 158.8) rotate(-90) skewX(0.1)">JN212</text>
<text x="0" y="0" font-size="9.2" text-anchor="middle" fill="#231f20" stroke="#231f20" stroke-width="0.2" transform="translate(339.7 82.5) rotate(-90) skewX(0.1)">Absorbance (440 nm)</text>
<rect x="436.1" y="22.2" width="5.7" height="5.7" fill="#a97cc0" stroke="#555" stroke-width="0.5"/>
<text x="0" y="0" font-size="8" text-anchor="start" fill="#231f20" stroke="#231f20" stroke-width="0.2" transform="translate(445.8 28) skewX(0.1)">WT</text>
<rect x="436.1" y="33.3" width="5.7" height="5.7" fill="#f4a3a6" stroke="#555" stroke-width="0.5"/>
<text x="0" y="0" font-size="8" text-anchor="start" fill="#231f20" stroke="#231f20" stroke-width="0.2" transform="translate(445.8 39.1) skewX(0.1)">JN170</text>
<rect x="436.1" y="44.4" width="5.7" height="5.7" fill="#e2573e" stroke="#555" stroke-width="0.5"/>
<text x="0" y="0" font-size="8" text-anchor="start" fill="#231f20" stroke="#231f20" stroke-width="0.2" transform="translate(445.8 50.2) skewX(0.1)">JN206</text>
<rect x="484.3" y="22.2" width="5.7" height="5.7" fill="#b0dcf8" stroke="#555" stroke-width="0.5"/>
<text x="0" y="0" font-size="8" text-anchor="start" fill="#231f20" stroke="#231f20" stroke-width="0.2" transform="translate(494 28) skewX(0.1)">JN174</text>
<rect x="484.3" y="33.3" width="5.7" height="5.7" fill="#60b8dc" stroke="#555" stroke-width="0.5"/>
<text x="0" y="0" font-size="8" text-anchor="start" fill="#231f20" stroke="#231f20" stroke-width="0.2" transform="translate(494 39.1) skewX(0.1)">JN208</text>
<rect x="484.3" y="44.4" width="5.7" height="5.7" fill="#4f80ab" stroke="#555" stroke-width="0.5"/>
<text x="0" y="0" font-size="8" text-anchor="start" fill="#231f20" stroke="#231f20" stroke-width="0.2" transform="translate(494 50.2) skewX(0.1)">JN212</text>
<line x1="594.9" y1="152.6" x2="594.9" y2="12.98" stroke="#9a9a9a" stroke-width="0.9"/>
<line x1="592.7" y1="152.6" x2="594.9" y2="152.6" stroke="#9a9a9a" stroke-width="0.9"/>
<text x="0" y="0" font-size="8.7" text-anchor="end" fill="#231f20" stroke="#231f20" stroke-width="0.1" transform="translate(590.7 155.2) skewX(0.1) scale(0.95 1)">0</text>
<line x1="592.7" y1="129.33" x2="594.9" y2="129.33" stroke="#9a9a9a" stroke-width="0.9"/>
<text x="0" y="0" font-size="8.7" text-anchor="end" fill="#231f20" stroke="#231f20" stroke-width="0.1" transform="translate(590.7 131.93) skewX(0.1) scale(0.95 1)">10</text>
<line x1="592.7" y1="106.06" x2="594.9" y2="106.06" stroke="#9a9a9a" stroke-width="0.9"/>
<text x="0" y="0" font-size="8.7" text-anchor="end" fill="#231f20" stroke="#231f20" stroke-width="0.1" transform="translate(590.7 108.66) skewX(0.1) scale(0.95 1)">20</text>
<line x1="592.7" y1="82.79" x2="594.9" y2="82.79" stroke="#9a9a9a" stroke-width="0.9"/>
<text x="0" y="0" font-size="8.7" text-anchor="end" fill="#231f20" stroke="#231f20" stroke-width="0.1" transform="translate(590.7 85.39) skewX(0.1) scale(0.95 1)">30</text>
<line x1="592.7" y1="59.52" x2="594.9" y2="59.52" stroke="#9a9a9a" stroke-width="0.9"/>
<text x="0" y="0" font-size="8.7" text-anchor="end" fill="#231f20" stroke="#231f20" stroke-width="0.1" transform="translate(590.7 62.12) skewX(0.1) scale(0.95 1)">40</text>
<line x1="592.7" y1="36.25" x2="594.9" y2="36.25" stroke="#9a9a9a" stroke-width="0.9"/>
<text x="0" y="0" font-size="8.7" text-anchor="end" fill="#231f20" stroke="#231f20" stroke-width="0.1" transform="translate(590.7 38.85) skewX(0.1) scale(0.95 1)">50</text>
<line x1="592.7" y1="12.98" x2="594.9" y2="12.98" stroke="#9a9a9a" stroke-width="0.9"/>
<text x="0" y="0" font-size="8.7" text-anchor="end" fill="#231f20" stroke="#231f20" stroke-width="0.1" transform="translate(590.7 15.58) skewX(0.1) scale(0.95 1)">60</text>
<line x1="593.6" y1="140.97" x2="594.9" y2="140.97" stroke="#9a9a9a" stroke-width="0.9"/>
<line x1="593.6" y1="117.69" x2="594.9" y2="117.69" stroke="#9a9a9a" stroke-width="0.9"/>
<line x1="593.6" y1="94.42" x2="594.9" y2="94.42" stroke="#9a9a9a" stroke-width="0.9"/>
<line x1="593.6" y1="71.16" x2="594.9" y2="71.16" stroke="#9a9a9a" stroke-width="0.9"/>
<line x1="593.6" y1="47.88" x2="594.9" y2="47.88" stroke="#9a9a9a" stroke-width="0.9"/>
<line x1="593.6" y1="24.61" x2="594.9" y2="24.61" stroke="#9a9a9a" stroke-width="0.9"/>
<rect x="599.71" y="26.71" width="12.5" height="125.89" fill="#d4a8dc" stroke="#555" stroke-width="0.5"/>
<line x1="605.96" y1="18.1" x2="605.96" y2="35.78" stroke="#4a4a4a" stroke-width="0.7" stroke-opacity="0.9"/>
<line x1="604.46" y1="18.1" x2="607.46" y2="18.1" stroke="#4a4a4a" stroke-width="0.7" stroke-opacity="0.9"/>
<line x1="604.46" y1="35.78" x2="607.46" y2="35.78" stroke="#4a4a4a" stroke-width="0.7" stroke-opacity="0.9"/>
<rect x="621.83" y="91.4" width="12.5" height="61.2" fill="#e2573e" stroke="#555" stroke-width="0.5"/>
<line x1="628.08" y1="85.58" x2="628.08" y2="97.92" stroke="#4a4a4a" stroke-width="0.7" stroke-opacity="0.9"/>
<line x1="626.58" y1="85.58" x2="629.58" y2="85.58" stroke="#4a4a4a" stroke-width="0.7" stroke-opacity="0.9"/>
<line x1="626.58" y1="97.92" x2="629.58" y2="97.92" stroke="#4a4a4a" stroke-width="0.7" stroke-opacity="0.9"/>
<polygon points="622.75,77.58 623.28,78.85 624.66,78.96 623.61,79.86 623.93,81.2 622.75,80.48 621.58,81.2 621.9,79.86 620.85,78.96 622.23,78.85" fill="#2a2a2a"/>
<polygon points="626.3,77.58 626.83,78.85 628.21,78.96 627.16,79.86 627.48,81.2 626.3,80.48 625.13,81.2 625.45,79.86 624.4,78.96 625.78,78.85" fill="#2a2a2a"/>
<polygon points="629.85,77.58 630.38,78.85 631.76,78.96 630.71,79.86 631.03,81.2 629.85,80.48 628.68,81.2 629,79.86 627.95,78.96 629.33,78.85" fill="#2a2a2a"/>
<polygon points="633.4,77.58 633.93,78.85 635.31,78.96 634.26,79.86 634.58,81.2 633.4,80.48 632.23,81.2 632.55,79.86 631.5,78.96 632.88,78.85" fill="#2a2a2a"/>
<rect x="643.95" y="91.4" width="12.5" height="61.2" fill="#60b8dc" stroke="#555" stroke-width="0.5"/>
<line x1="650.2" y1="86.51" x2="650.2" y2="96.05" stroke="#4a4a4a" stroke-width="0.7" stroke-opacity="0.9"/>
<line x1="648.7" y1="86.51" x2="651.7" y2="86.51" stroke="#4a4a4a" stroke-width="0.7" stroke-opacity="0.9"/>
<line x1="648.7" y1="96.05" x2="651.7" y2="96.05" stroke="#4a4a4a" stroke-width="0.7" stroke-opacity="0.9"/>
<polygon points="644.87,78.51 645.4,79.79 646.78,79.9 645.73,80.79 646.05,82.13 644.87,81.41 643.7,82.13 644.02,80.79 642.97,79.9 644.35,79.79" fill="#2a2a2a"/>
<polygon points="648.42,78.51 648.95,79.79 650.33,79.9 649.28,80.79 649.6,82.13 648.42,81.41 647.25,82.13 647.57,80.79 646.52,79.9 647.9,79.79" fill="#2a2a2a"/>
<polygon points="651.97,78.51 652.5,79.79 653.88,79.9 652.83,80.79 653.15,82.13 651.97,81.41 650.8,82.13 651.12,80.79 650.07,79.9 651.45,79.79" fill="#2a2a2a"/>
<polygon points="655.52,78.51 656.05,79.79 657.43,79.9 656.38,80.79 656.7,82.13 655.52,81.41 654.35,82.13 654.67,80.79 653.62,79.9 655,79.79" fill="#2a2a2a"/>
<rect x="666.07" y="45.56" width="12.5" height="107.04" fill="#4f80ab" stroke="#555" stroke-width="0.5"/>
<line x1="672.32" y1="38.34" x2="672.32" y2="53" stroke="#4a4a4a" stroke-width="0.7" stroke-opacity="0.9"/>
<line x1="670.82" y1="38.34" x2="673.82" y2="38.34" stroke="#4a4a4a" stroke-width="0.7" stroke-opacity="0.9"/>
<line x1="670.82" y1="53" x2="673.82" y2="53" stroke="#4a4a4a" stroke-width="0.7" stroke-opacity="0.9"/>
<polygon points="672.32,30.34 672.85,31.62 674.22,31.73 673.18,32.62 673.5,33.96 672.32,33.24 671.14,33.96 671.46,32.62 670.42,31.73 671.79,31.62" fill="#2a2a2a"/>
<line x1="594.9" y1="152.6" x2="683.38" y2="152.6" stroke="#9a9a9a" stroke-width="0.9"/>
<line x1="594.9" y1="152.6" x2="594.9" y2="154.6" stroke="#9a9a9a" stroke-width="0.9"/>
<line x1="617.02" y1="152.6" x2="617.02" y2="154.6" stroke="#9a9a9a" stroke-width="0.9"/>
<line x1="639.14" y1="152.6" x2="639.14" y2="154.6" stroke="#9a9a9a" stroke-width="0.9"/>
<line x1="661.26" y1="152.6" x2="661.26" y2="154.6" stroke="#9a9a9a" stroke-width="0.9"/>
<line x1="683.38" y1="152.6" x2="683.38" y2="154.6" stroke="#9a9a9a" stroke-width="0.9"/>
<text x="0" y="0" font-size="8.2" text-anchor="end" fill="#231f20" stroke="#231f20" stroke-width="0.2" transform="translate(608.96 158.8) rotate(-90) skewX(0.1)">WT</text>
<text x="0" y="0" font-size="8.2" text-anchor="end" fill="#231f20" stroke="#231f20" stroke-width="0.2" transform="translate(631.08 158.8) rotate(-90) skewX(0.1)">JN206</text>
<text x="0" y="0" font-size="8.2" text-anchor="end" fill="#231f20" stroke="#231f20" stroke-width="0.2" transform="translate(653.2 158.8) rotate(-90) skewX(0.1)">JN208</text>
<text x="0" y="0" font-size="8.2" text-anchor="end" fill="#231f20" stroke="#231f20" stroke-width="0.2" transform="translate(675.32 158.8) rotate(-90) skewX(0.1)">JN212</text>
<text x="0" y="0" font-size="9.2" text-anchor="start" fill="#231f20" stroke="#231f20" stroke-width="0.2" transform="translate(575.8 140) rotate(-90) skewX(0.1)"><tspan font-size="8.1">D</tspan>-Ala (nmol / mg dried cells)</text>
<line x1="35.9" y1="348.1" x2="35.9" y2="221.93" stroke="#6a6a6a" stroke-width="0.8"/>
<line x1="33.7" y1="348.1" x2="35.9" y2="348.1" stroke="#6a6a6a" stroke-width="0.8"/>
<text x="0" y="0" font-size="8.7" text-anchor="end" fill="#231f20" stroke="#231f20" stroke-width="0.1" transform="translate(31.7 350.7) skewX(0.1) scale(0.95 1)">0</text>
<line x1="33.7" y1="325.16" x2="35.9" y2="325.16" stroke="#6a6a6a" stroke-width="0.8"/>
<text x="0" y="0" font-size="8.7" text-anchor="end" fill="#231f20" stroke="#231f20" stroke-width="0.1" transform="translate(31.7 327.76) skewX(0.1) scale(0.95 1)">20</text>
<line x1="33.7" y1="302.22" x2="35.9" y2="302.22" stroke="#6a6a6a" stroke-width="0.8"/>
<text x="0" y="0" font-size="8.7" text-anchor="end" fill="#231f20" stroke="#231f20" stroke-width="0.1" transform="translate(31.7 304.82) skewX(0.1) scale(0.95 1)">40</text>
<line x1="33.7" y1="279.28" x2="35.9" y2="279.28" stroke="#6a6a6a" stroke-width="0.8"/>
<text x="0" y="0" font-size="8.7" text-anchor="end" fill="#231f20" stroke="#231f20" stroke-width="0.1" transform="translate(31.7 281.88) skewX(0.1) scale(0.95 1)">60</text>
<line x1="33.7" y1="256.34" x2="35.9" y2="256.34" stroke="#6a6a6a" stroke-width="0.8"/>
<text x="0" y="0" font-size="8.7" text-anchor="end" fill="#231f20" stroke="#231f20" stroke-width="0.1" transform="translate(31.7 258.94) skewX(0.1) scale(0.95 1)">80</text>
<line x1="33.7" y1="233.4" x2="35.9" y2="233.4" stroke="#6a6a6a" stroke-width="0.8"/>
<text x="0" y="0" font-size="8.7" text-anchor="end" fill="#231f20" stroke="#231f20" stroke-width="0.1" transform="translate(31.7 236) skewX(0.1) scale(0.95 1)">100</text>
<line x1="34.6" y1="336.63" x2="35.9" y2="336.63" stroke="#6a6a6a" stroke-width="0.8"/>
<line x1="34.6" y1="313.69" x2="35.9" y2="313.69" stroke="#6a6a6a" stroke-width="0.8"/>
<line x1="34.6" y1="290.75" x2="35.9" y2="290.75" stroke="#6a6a6a" stroke-width="0.8"/>
<line x1="34.6" y1="267.81" x2="35.9" y2="267.81" stroke="#6a6a6a" stroke-width="0.8"/>
<line x1="34.6" y1="244.87" x2="35.9" y2="244.87" stroke="#6a6a6a" stroke-width="0.8"/>
<line x1="34.6" y1="221.93" x2="35.9" y2="221.93" stroke="#6a6a6a" stroke-width="0.8"/>
<line x1="35.9" y1="348.1" x2="124.8" y2="348.1" stroke="#6a6a6a" stroke-width="0.8"/>
<line x1="35.9" y1="348.1" x2="35.9" y2="350.1" stroke="#6a6a6a" stroke-width="0.8"/>
<text x="0" y="0" font-size="8.7" text-anchor="middle" fill="#231f20" stroke="#231f20" stroke-width="0.1" transform="translate(35.9 359.3) skewX(0.1) scale(0.95 1)">40</text>
<line x1="61.3" y1="348.1" x2="61.3" y2="350.1" stroke="#6a6a6a" stroke-width="0.8"/>
<text x="0" y="0" font-size="8.7" text-anchor="middle" fill="#231f20" stroke="#231f20" stroke-width="0.1" transform="translate(61.3 359.3) skewX(0.1) scale(0.95 1)">80</text>
<line x1="86.7" y1="348.1" x2="86.7" y2="350.1" stroke="#6a6a6a" stroke-width="0.8"/>
<text x="0" y="0" font-size="8.7" text-anchor="middle" fill="#231f20" stroke="#231f20" stroke-width="0.1" transform="translate(86.7 359.3) skewX(0.1) scale(0.95 1)">120</text>
<line x1="112.1" y1="348.1" x2="112.1" y2="350.1" stroke="#6a6a6a" stroke-width="0.8"/>
<text x="0" y="0" font-size="8.7" text-anchor="middle" fill="#231f20" stroke="#231f20" stroke-width="0.1" transform="translate(112.1 359.3) skewX(0.1) scale(0.95 1)">160</text>
<line x1="48.6" y1="348.1" x2="48.6" y2="349.4" stroke="#6a6a6a" stroke-width="0.8"/>
<line x1="74" y1="348.1" x2="74" y2="349.4" stroke="#6a6a6a" stroke-width="0.8"/>
<line x1="99.4" y1="348.1" x2="99.4" y2="349.4" stroke="#6a6a6a" stroke-width="0.8"/>
<line x1="124.8" y1="348.1" x2="124.8" y2="349.4" stroke="#6a6a6a" stroke-width="0.8"/>
<text x="0" y="0" font-size="9.2" text-anchor="middle" fill="#231f20" stroke="#231f20" stroke-width="0.2" transform="translate(80.7 370.8) skewX(0.1)">Time (min)</text>
<text x="0" y="0" font-size="9.2" text-anchor="middle" fill="#231f20" stroke="#231f20" stroke-width="0.2" transform="translate(13.9 284.9) rotate(-90) skewX(0.1)">Turbidity (%)</text>
<text x="0" y="0" font-size="8" text-anchor="start" fill="#231f20" stroke="#231f20" stroke-width="0.2" transform="translate(41.2 342.4) skewX(0.1)">Triton X-100</text>
<path d="M35.9 232.83 C36.8 232.18 38.72 229.56 41.3 228.93 C43.88 228.3 48.18 228.89 51.39 229.04 C54.61 229.19 57 228.95 60.6 229.84 C64.2 230.74 69.88 233.34 72.98 234.43 C76.08 235.52 76.64 235.35 79.21 236.38 C81.78 237.41 85.35 239.38 88.41 240.63 C91.48 241.87 94.02 242.61 97.62 243.84 C101.22 245.06 105.45 246.34 110 247.97 C114.56 249.59 122.44 252.65 124.93 253.59 L124.93 261.62 C122.44 260.87 114.56 258.58 110 257.14 C105.45 255.71 101.22 254.24 97.62 253.01 C94.02 251.79 91.48 250.85 88.41 249.8 C85.35 248.75 81.78 247.36 79.21 246.71 C76.64 246.06 76.08 246.8 72.98 245.9 C69.88 245 64.2 242.4 60.6 241.31 C57 240.22 54.61 240.28 51.39 239.36 C48.18 238.45 43.88 236.71 41.3 235.81 C38.72 234.91 36.8 234.28 35.9 233.97 Z" fill="#c6ecf7" fill-opacity="0.75" stroke="none"/>
<path d="M35.9 233.06 L36.8 232.35 38.72 229.29 41.3 228.81 L43.88 228.33 48.18 229.73 51.39 230.19 L54.61 230.65 57.5 230.74 60.6 231.56 L63.7 232.39 67.82 234.62 70 235.12 L72.18 235.62 72.76 234.16 73.68 234.55 L74.6 234.93 74.46 236.06 75.52 237.41 L76.59 238.77 78.72 242.35 80.1 242.69 L81.47 243.03 82.54 239.71 83.78 239.48 L85.02 239.25 85.99 241.31 87.53 241.31 L89.06 241.31 91.74 239.48 92.99 239.48 L94.24 239.48 93.92 240.34 95.02 241.31 L96.12 242.29 98.06 244.97 99.59 245.33 L101.13 245.69 102.54 243.44 104.23 243.49 L105.91 243.55 107.39 245.46 109.69 245.67 L111.98 245.88 115.94 245.92 118.01 244.76 L120.07 243.59 120.92 237.38 122.07 238.68 L123.22 239.98 124.45 250.24 124.93 252.55 L124.93 261.73 L124.45 260.95 123.22 257.56 122.07 257.03 L120.92 256.49 120.07 258.12 118.01 258.52 L115.94 258.92 111.98 259.84 109.69 259.44 L107.39 259.04 105.91 256.36 104.23 256.11 L102.54 255.86 101.13 258.5 99.59 257.95 L98.06 257.39 96.12 253.95 95.02 252.78 L93.92 251.62 94.24 250.95 92.99 250.95 L91.74 250.95 89.06 252.78 87.53 252.78 L85.99 252.78 85.02 250.91 83.78 250.95 L82.54 250.99 81.47 253.74 80.1 253.01 L78.72 252.29 76.59 248.14 75.52 246.59 L74.46 245.04 74.6 244.11 73.68 243.72 L72.76 243.34 72.18 244.98 70 244.3 L67.82 243.61 63.7 240.61 60.6 239.59 L57.5 238.58 54.61 239.06 51.39 238.22 L48.18 237.38 43.88 235.29 41.3 234.55 L38.72 233.8 36.8 233.88 35.9 233.74 Z" fill="#dccbee" fill-opacity="0.4" stroke="none"/>
<path d="M35.9 233.4 L41.3 231.68 L51.39 234.2 L60.6 235.58 L70 239.71 L73.68 239.14 L75.52 242 L80.1 247.85 L83.78 245.21 L87.53 247.05 L92.99 245.21 L95.02 247.05 L99.59 251.64 L104.23 249.8 L109.69 252.55 L118.01 251.64 L122.07 247.85 L124.93 257.14" fill="none" stroke="#a078b8" stroke-width="0.8" stroke-linejoin="round"/>
<path d="M35.9 233.4 C36.8 233.23 38.72 232.23 41.3 232.37 C43.88 232.5 48.18 233.67 51.39 234.2 C54.61 234.74 57 234.59 60.6 235.58 C64.2 236.57 69.88 239.17 72.98 240.17 C76.08 241.16 76.64 240.7 79.21 241.54 C81.78 242.38 85.35 244.07 88.41 245.21 C91.48 246.36 94.02 247.2 97.62 248.43 C101.22 249.65 105.45 251.03 110 252.55 C114.56 254.08 122.44 256.76 124.93 257.6" fill="none" stroke="#3a84bb" stroke-width="0.95" stroke-linejoin="round"/>
<path d="M35.9 233.06 C36.11 233.34 36.74 234.36 37.17 234.78 C37.6 235.2 37.36 234.95 38.5 235.58 C39.65 236.21 41.88 237.17 44.03 238.56 C46.18 239.96 48.95 241.96 51.39 243.95 C53.84 245.94 56.55 248.22 58.7 250.49 C60.84 252.77 63.16 256.34 64.28 257.6 C65.41 258.86 65.08 257.96 65.43 258.06 C65.78 258.16 66.06 257.56 66.38 258.18 C66.7 258.79 66.88 260.58 67.33 261.73 C67.79 262.88 67.13 262.09 69.11 265.06 C71.09 268.02 75.59 274.44 79.21 279.51 C82.83 284.58 86.96 290.86 90.83 295.45 C94.69 300.04 98.54 303.92 102.38 307.04 C106.23 310.15 111.62 312.91 113.88 314.15 C116.13 315.39 115.17 315.91 115.91 314.49 C116.65 313.08 117.69 305.6 118.32 305.66 C118.96 305.72 119.06 312.7 119.72 314.84 C120.38 316.98 121.39 317.61 122.26 318.51 C123.13 319.41 124.48 319.94 124.93 320.23 L124.93 323.21 C124.48 323.11 123.13 322.89 122.26 322.64 C121.39 322.39 120.38 322.25 119.72 321.72 C119.06 321.18 118.96 319.94 118.32 319.43 C117.69 318.91 116.65 319.08 115.91 318.62 C115.17 318.16 116.13 318.22 113.88 316.67 C111.62 315.12 106.23 312.49 102.38 309.33 C98.54 306.18 94.69 302.33 90.83 297.75 C86.96 293.16 82.83 286.87 79.21 281.8 C75.59 276.74 71.09 270.28 69.11 267.35 C67.13 264.43 67.79 265.02 67.33 264.25 C66.88 263.49 66.7 263.03 66.38 262.76 C66.06 262.5 65.78 263.05 65.43 262.65 C65.08 262.25 65.41 261.96 64.28 260.35 C63.16 258.75 60.84 255.33 58.7 253.01 C56.55 250.7 53.84 248.5 51.39 246.48 C48.95 244.45 46.18 242.37 44.03 240.86 C41.88 239.35 39.65 238.2 38.5 237.41 C37.36 236.63 37.6 236.76 37.17 236.15 C36.74 235.54 36.11 234.15 35.9 233.74 Z" fill="#f4b4b4" fill-opacity="0.6" stroke="none"/>
<path d="M35.9 233.4 L37.17 235.46 L38.5 236.5 L44.03 239.71 L51.39 245.21 L58.7 251.75 L64.28 258.98 L65.43 260.35 L66.38 260.47 L67.33 262.99 L69.11 266.2 L79.21 280.66 L90.83 296.6 L102.38 308.18 L113.88 315.41 L115.91 316.56 L118.32 312.54 L119.72 318.28 L122.26 320.57 L124.93 321.72" fill="none" stroke="#de5252" stroke-width="0.95" stroke-linejoin="round"/>
<text x="0" y="0" font-size="6.8" text-anchor="start" fill="#3a8cc0" stroke="#3a8cc0" stroke-width="0.05" font-style="italic" transform="translate(86 240.6) skewX(0.1)">vraF</text>
<text x="0" y="0" font-size="6.9" text-anchor="start" fill="#9f72b6" stroke="#9f72b6" stroke-width="0.05" transform="translate(83.8 257.6) skewX(0.1)">WT</text>
<text x="0" y="0" font-size="6.9" text-anchor="start" fill="#de5252" stroke="#de5252" stroke-width="0.05" font-style="italic" transform="translate(74.9 298) skewX(0.1)">fmtA</text>
<line x1="171.9" y1="347.9" x2="171.9" y2="208.22" stroke="#c4c4c4" stroke-width="1.1"/>
<line x1="169.7" y1="347.9" x2="171.9" y2="347.9" stroke="#c4c4c4" stroke-width="1.1"/>
<text x="0" y="0" font-size="8.7" text-anchor="end" fill="#231f20" stroke="#231f20" stroke-width="0.1" transform="translate(167.7 350.5) skewX(0.1) scale(0.95 1)">0</text>
<line x1="169.7" y1="324.62" x2="171.9" y2="324.62" stroke="#c4c4c4" stroke-width="1.1"/>
<text x="0" y="0" font-size="8.7" text-anchor="end" fill="#231f20" stroke="#231f20" stroke-width="0.1" transform="translate(167.7 327.22) skewX(0.1) scale(0.95 1)">20</text>
<line x1="169.7" y1="301.34" x2="171.9" y2="301.34" stroke="#c4c4c4" stroke-width="1.1"/>
<text x="0" y="0" font-size="8.7" text-anchor="end" fill="#231f20" stroke="#231f20" stroke-width="0.1" transform="translate(167.7 303.94) skewX(0.1) scale(0.95 1)">40</text>
<line x1="169.7" y1="278.06" x2="171.9" y2="278.06" stroke="#c4c4c4" stroke-width="1.1"/>
<text x="0" y="0" font-size="8.7" text-anchor="end" fill="#231f20" stroke="#231f20" stroke-width="0.1" transform="translate(167.7 280.66) skewX(0.1) scale(0.95 1)">60</text>
<line x1="169.7" y1="254.78" x2="171.9" y2="254.78" stroke="#c4c4c4" stroke-width="1.1"/>
<text x="0" y="0" font-size="8.7" text-anchor="end" fill="#231f20" stroke="#231f20" stroke-width="0.1" transform="translate(167.7 257.38) skewX(0.1) scale(0.95 1)">80</text>
<line x1="169.7" y1="231.5" x2="171.9" y2="231.5" stroke="#c4c4c4" stroke-width="1.1"/>
<text x="0" y="0" font-size="8.7" text-anchor="end" fill="#231f20" stroke="#231f20" stroke-width="0.1" transform="translate(167.7 234.1) skewX(0.1) scale(0.95 1)">100</text>
<line x1="169.7" y1="208.22" x2="171.9" y2="208.22" stroke="#c4c4c4" stroke-width="1.1"/>
<text x="0" y="0" font-size="8.7" text-anchor="end" fill="#231f20" stroke="#231f20" stroke-width="0.1" transform="translate(167.7 210.82) skewX(0.1) scale(0.95 1)">120</text>
<line x1="170.6" y1="336.26" x2="171.9" y2="336.26" stroke="#c4c4c4" stroke-width="1.1"/>
<line x1="170.6" y1="312.98" x2="171.9" y2="312.98" stroke="#c4c4c4" stroke-width="1.1"/>
<line x1="170.6" y1="289.7" x2="171.9" y2="289.7" stroke="#c4c4c4" stroke-width="1.1"/>
<line x1="170.6" y1="266.42" x2="171.9" y2="266.42" stroke="#c4c4c4" stroke-width="1.1"/>
<line x1="170.6" y1="243.14" x2="171.9" y2="243.14" stroke="#c4c4c4" stroke-width="1.1"/>
<line x1="170.6" y1="219.86" x2="171.9" y2="219.86" stroke="#c4c4c4" stroke-width="1.1"/>
<rect x="175.35" y="230.92" width="4.7" height="116.98" fill="#a47aaf" stroke="#666" stroke-width="0.4"/>
<line x1="177.7" y1="230.34" x2="177.7" y2="232.08" stroke="#4a4a4a" stroke-width="0.7" stroke-opacity="0.9"/>
<line x1="176.6" y1="230.34" x2="178.8" y2="230.34" stroke="#4a4a4a" stroke-width="0.7" stroke-opacity="0.9"/>
<line x1="176.6" y1="232.08" x2="178.8" y2="232.08" stroke="#4a4a4a" stroke-width="0.7" stroke-opacity="0.9"/>
<rect x="180.6" y="230.92" width="4.7" height="116.98" fill="#d64541" stroke="#666" stroke-width="0.4"/>
<line x1="182.95" y1="227.08" x2="182.95" y2="234.99" stroke="#4a4a4a" stroke-width="0.7" stroke-opacity="0.9"/>
<line x1="181.85" y1="227.08" x2="184.05" y2="227.08" stroke="#4a4a4a" stroke-width="0.7" stroke-opacity="0.9"/>
<line x1="181.85" y1="234.99" x2="184.05" y2="234.99" stroke="#4a4a4a" stroke-width="0.7" stroke-opacity="0.9"/>
<rect x="185.85" y="230.92" width="4.7" height="116.98" fill="#3a85b0" stroke="#666" stroke-width="0.4"/>
<line x1="188.2" y1="230.34" x2="188.2" y2="231.5" stroke="#4a4a4a" stroke-width="0.7" stroke-opacity="0.9"/>
<line x1="187.1" y1="230.34" x2="189.3" y2="230.34" stroke="#4a4a4a" stroke-width="0.7" stroke-opacity="0.9"/>
<line x1="187.1" y1="231.5" x2="189.3" y2="231.5" stroke="#4a4a4a" stroke-width="0.7" stroke-opacity="0.9"/>
<rect x="197.45" y="232.31" width="4.7" height="115.59" fill="#a47aaf" stroke="#666" stroke-width="0.4"/>
<line x1="199.8" y1="231.97" x2="199.8" y2="232.66" stroke="#4a4a4a" stroke-width="0.7" stroke-opacity="0.9"/>
<line x1="198.7" y1="231.97" x2="200.9" y2="231.97" stroke="#4a4a4a" stroke-width="0.7" stroke-opacity="0.9"/>
<line x1="198.7" y1="232.66" x2="200.9" y2="232.66" stroke="#4a4a4a" stroke-width="0.7" stroke-opacity="0.9"/>
<rect x="202.7" y="238.48" width="4.7" height="109.42" fill="#d64541" stroke="#666" stroke-width="0.4"/>
<line x1="205.05" y1="237.09" x2="205.05" y2="239.88" stroke="#4a4a4a" stroke-width="0.7" stroke-opacity="0.9"/>
<line x1="203.95" y1="237.09" x2="206.15" y2="237.09" stroke="#4a4a4a" stroke-width="0.7" stroke-opacity="0.9"/>
<line x1="203.95" y1="239.88" x2="206.15" y2="239.88" stroke="#4a4a4a" stroke-width="0.7" stroke-opacity="0.9"/>
<rect x="207.95" y="232.55" width="4.7" height="115.35" fill="#3a85b0" stroke="#666" stroke-width="0.4"/>
<line x1="210.3" y1="232.2" x2="210.3" y2="232.9" stroke="#4a4a4a" stroke-width="0.7" stroke-opacity="0.9"/>
<line x1="209.2" y1="232.2" x2="211.4" y2="232.2" stroke="#4a4a4a" stroke-width="0.7" stroke-opacity="0.9"/>
<line x1="209.2" y1="232.9" x2="211.4" y2="232.9" stroke="#4a4a4a" stroke-width="0.7" stroke-opacity="0.9"/>
<rect x="219.55" y="299.24" width="4.7" height="48.66" fill="#a47aaf" stroke="#666" stroke-width="0.4"/>
<line x1="221.9" y1="287.84" x2="221.9" y2="309.95" stroke="#4a4a4a" stroke-width="0.7" stroke-opacity="0.9"/>
<line x1="220.8" y1="287.84" x2="223" y2="287.84" stroke="#4a4a4a" stroke-width="0.7" stroke-opacity="0.9"/>
<line x1="220.8" y1="309.95" x2="223" y2="309.95" stroke="#4a4a4a" stroke-width="0.7" stroke-opacity="0.9"/>
<rect x="224.8" y="250.36" width="4.7" height="97.54" fill="#d64541" stroke="#666" stroke-width="0.4"/>
<line x1="227.15" y1="249.77" x2="227.15" y2="250.94" stroke="#4a4a4a" stroke-width="0.7" stroke-opacity="0.9"/>
<line x1="226.05" y1="249.77" x2="228.25" y2="249.77" stroke="#4a4a4a" stroke-width="0.7" stroke-opacity="0.9"/>
<line x1="226.05" y1="250.94" x2="228.25" y2="250.94" stroke="#4a4a4a" stroke-width="0.7" stroke-opacity="0.9"/>
<rect x="230.05" y="257.81" width="4.7" height="90.09" fill="#3a85b0" stroke="#666" stroke-width="0.4"/>
<line x1="232.4" y1="226.61" x2="232.4" y2="289.35" stroke="#4a4a4a" stroke-width="0.7" stroke-opacity="0.9"/>
<line x1="231.3" y1="226.61" x2="233.5" y2="226.61" stroke="#4a4a4a" stroke-width="0.7" stroke-opacity="0.9"/>
<line x1="231.3" y1="289.35" x2="233.5" y2="289.35" stroke="#4a4a4a" stroke-width="0.7" stroke-opacity="0.9"/>
<rect x="241.65" y="346.74" width="4.7" height="1.16" fill="#a47aaf" stroke="#666" stroke-width="0.4"/>
<rect x="246.9" y="346.04" width="4.7" height="1.86" fill="#d64541" stroke="#666" stroke-width="0.4"/>
<rect x="252.15" y="346.5" width="4.7" height="1.4" fill="#3a85b0" stroke="#666" stroke-width="0.4"/>
<rect x="263.75" y="347.09" width="4.7" height="0.81" fill="#a47aaf" stroke="#666" stroke-width="0.4"/>
<rect x="269" y="346.97" width="4.7" height="0.93" fill="#d64541" stroke="#666" stroke-width="0.4"/>
<rect x="274.25" y="347.09" width="4.7" height="0.81" fill="#3a85b0" stroke="#666" stroke-width="0.4"/>
<line x1="171.9" y1="347.9" x2="282.4" y2="347.9" stroke="#c4c4c4" stroke-width="1.1"/>
<line x1="171.9" y1="347.9" x2="171.9" y2="349.9" stroke="#c4c4c4" stroke-width="1.1"/>
<line x1="194" y1="347.9" x2="194" y2="349.9" stroke="#c4c4c4" stroke-width="1.1"/>
<line x1="216.1" y1="347.9" x2="216.1" y2="349.9" stroke="#c4c4c4" stroke-width="1.1"/>
<line x1="238.2" y1="347.9" x2="238.2" y2="349.9" stroke="#c4c4c4" stroke-width="1.1"/>
<line x1="260.3" y1="347.9" x2="260.3" y2="349.9" stroke="#c4c4c4" stroke-width="1.1"/>
<line x1="282.4" y1="347.9" x2="282.4" y2="349.9" stroke="#c4c4c4" stroke-width="1.1"/>
<text x="0" y="0" font-size="8.7" text-anchor="middle" fill="#231f20" stroke="#231f20" stroke-width="0.1" transform="translate(182.95 359.9) skewX(0.1) scale(0.95 1)">0</text>
<text x="0" y="0" font-size="8.7" text-anchor="middle" fill="#231f20" stroke="#231f20" stroke-width="0.1" transform="translate(205.05 359.9) skewX(0.1) scale(0.95 1)">0.06</text>
<text x="0" y="0" font-size="8.7" text-anchor="middle" fill="#231f20" stroke="#231f20" stroke-width="0.1" transform="translate(227.15 359.9) skewX(0.1) scale(0.95 1)">0.12</text>
<text x="0" y="0" font-size="8.7" text-anchor="middle" fill="#231f20" stroke="#231f20" stroke-width="0.1" transform="translate(249.25 359.9) skewX(0.1) scale(0.95 1)">0.25</text>
<text x="0" y="0" font-size="8.7" text-anchor="middle" fill="#231f20" stroke="#231f20" stroke-width="0.1" transform="translate(271.35 359.9) skewX(0.1) scale(0.95 1)">0.5</text>
<text x="0" y="0" font-size="9.2" text-anchor="middle" fill="#231f20" stroke="#231f20" stroke-width="0.2" transform="translate(227.3 374.1) skewX(0.1)">EDTA (mM)</text>
<text x="0" y="0" font-size="9.2" text-anchor="middle" fill="#231f20" stroke="#231f20" stroke-width="0.2" transform="translate(149.6 277.4) rotate(-90) skewX(0.1)">Growth (%)</text>
<rect x="250.6" y="212.5" width="5" height="5" fill="#a47aaf" stroke="#555" stroke-width="0.5"/>
<text x="0" y="0" font-size="8" text-anchor="start" fill="#231f20" stroke="#231f20" stroke-width="0.12" transform="translate(259.3 217.8) skewX(0.1)">WT</text>
<rect x="250.6" y="223.4" width="5" height="5" fill="#d64541" stroke="#555" stroke-width="0.5"/>
<text x="0" y="0" font-size="8" text-anchor="start" fill="#231f20" stroke="#231f20" stroke-width="0.12" font-style="italic" transform="translate(259.3 228.7) skewX(0.1)">fmtA</text>
<rect x="250.6" y="234.3" width="5" height="5" fill="#3a85b0" stroke="#555" stroke-width="0.5"/>
<text x="0" y="0" font-size="8" text-anchor="start" fill="#231f20" stroke="#231f20" stroke-width="0.12" font-style="italic" transform="translate(259.3 239.6) skewX(0.1)">vraF</text>
<line x1="322.3" y1="347.8" x2="322.3" y2="208.24" stroke="#8a8a8a" stroke-width="0.85"/>
<line x1="320.1" y1="347.8" x2="322.3" y2="347.8" stroke="#8a8a8a" stroke-width="0.85"/>
<text x="0" y="0" font-size="8.7" text-anchor="end" fill="#231f20" stroke="#231f20" stroke-width="0.1" transform="translate(318.1 350.4) skewX(0.1) scale(0.95 1)">0</text>
<line x1="320.1" y1="324.54" x2="322.3" y2="324.54" stroke="#8a8a8a" stroke-width="0.85"/>
<text x="0" y="0" font-size="8.7" text-anchor="end" fill="#231f20" stroke="#231f20" stroke-width="0.1" transform="translate(318.1 327.14) skewX(0.1) scale(0.95 1)">20</text>
<line x1="320.1" y1="301.28" x2="322.3" y2="301.28" stroke="#8a8a8a" stroke-width="0.85"/>
<text x="0" y="0" font-size="8.7" text-anchor="end" fill="#231f20" stroke="#231f20" stroke-width="0.1" transform="translate(318.1 303.88) skewX(0.1) scale(0.95 1)">40</text>
<line x1="320.1" y1="278.02" x2="322.3" y2="278.02" stroke="#8a8a8a" stroke-width="0.85"/>
<text x="0" y="0" font-size="8.7" text-anchor="end" fill="#231f20" stroke="#231f20" stroke-width="0.1" transform="translate(318.1 280.62) skewX(0.1) scale(0.95 1)">60</text>
<line x1="320.1" y1="254.76" x2="322.3" y2="254.76" stroke="#8a8a8a" stroke-width="0.85"/>
<text x="0" y="0" font-size="8.7" text-anchor="end" fill="#231f20" stroke="#231f20" stroke-width="0.1" transform="translate(318.1 257.36) skewX(0.1) scale(0.95 1)">80</text>
<line x1="320.1" y1="231.5" x2="322.3" y2="231.5" stroke="#8a8a8a" stroke-width="0.85"/>
<text x="0" y="0" font-size="8.7" text-anchor="end" fill="#231f20" stroke="#231f20" stroke-width="0.1" transform="translate(318.1 234.1) skewX(0.1) scale(0.95 1)">100</text>
<line x1="320.1" y1="208.24" x2="322.3" y2="208.24" stroke="#8a8a8a" stroke-width="0.85"/>
<text x="0" y="0" font-size="8.7" text-anchor="end" fill="#231f20" stroke="#231f20" stroke-width="0.1" transform="translate(318.1 210.84) skewX(0.1) scale(0.95 1)">120</text>
<line x1="321" y1="336.17" x2="322.3" y2="336.17" stroke="#8a8a8a" stroke-width="0.85"/>
<line x1="321" y1="312.91" x2="322.3" y2="312.91" stroke="#8a8a8a" stroke-width="0.85"/>
<line x1="321" y1="289.65" x2="322.3" y2="289.65" stroke="#8a8a8a" stroke-width="0.85"/>
<line x1="321" y1="266.39" x2="322.3" y2="266.39" stroke="#8a8a8a" stroke-width="0.85"/>
<line x1="321" y1="243.13" x2="322.3" y2="243.13" stroke="#8a8a8a" stroke-width="0.85"/>
<line x1="321" y1="219.87" x2="322.3" y2="219.87" stroke="#8a8a8a" stroke-width="0.85"/>
<rect x="325.95" y="231.5" width="4.7" height="116.3" fill="#a47aaf" stroke="#666" stroke-width="0.4"/>
<line x1="328.3" y1="230.92" x2="328.3" y2="232.08" stroke="#4a4a4a" stroke-width="0.7" stroke-opacity="0.9"/>
<line x1="327.2" y1="230.92" x2="329.4" y2="230.92" stroke="#4a4a4a" stroke-width="0.7" stroke-opacity="0.9"/>
<line x1="327.2" y1="232.08" x2="329.4" y2="232.08" stroke="#4a4a4a" stroke-width="0.7" stroke-opacity="0.9"/>
<rect x="331.2" y="231.5" width="4.7" height="116.3" fill="#d64541" stroke="#666" stroke-width="0.4"/>
<line x1="333.55" y1="229.17" x2="333.55" y2="233.83" stroke="#4a4a4a" stroke-width="0.7" stroke-opacity="0.9"/>
<line x1="332.45" y1="229.17" x2="334.65" y2="229.17" stroke="#4a4a4a" stroke-width="0.7" stroke-opacity="0.9"/>
<line x1="332.45" y1="233.83" x2="334.65" y2="233.83" stroke="#4a4a4a" stroke-width="0.7" stroke-opacity="0.9"/>
<rect x="336.45" y="231.5" width="4.7" height="116.3" fill="#3a85b0" stroke="#666" stroke-width="0.4"/>
<line x1="338.8" y1="229.17" x2="338.8" y2="233.83" stroke="#4a4a4a" stroke-width="0.7" stroke-opacity="0.9"/>
<line x1="337.7" y1="229.17" x2="339.9" y2="229.17" stroke="#4a4a4a" stroke-width="0.7" stroke-opacity="0.9"/>
<line x1="337.7" y1="233.83" x2="339.9" y2="233.83" stroke="#4a4a4a" stroke-width="0.7" stroke-opacity="0.9"/>
<rect x="348.45" y="283.6" width="4.7" height="64.2" fill="#a47aaf" stroke="#666" stroke-width="0.4"/>
<line x1="350.8" y1="273.95" x2="350.8" y2="293.14" stroke="#4a4a4a" stroke-width="0.7" stroke-opacity="0.9"/>
<line x1="349.7" y1="273.95" x2="351.9" y2="273.95" stroke="#4a4a4a" stroke-width="0.7" stroke-opacity="0.9"/>
<line x1="349.7" y1="293.14" x2="351.9" y2="293.14" stroke="#4a4a4a" stroke-width="0.7" stroke-opacity="0.9"/>
<rect x="353.7" y="254.41" width="4.7" height="93.39" fill="#d64541" stroke="#666" stroke-width="0.4"/>
<line x1="356.05" y1="248.6" x2="356.05" y2="260.23" stroke="#4a4a4a" stroke-width="0.7" stroke-opacity="0.9"/>
<line x1="354.95" y1="248.6" x2="357.15" y2="248.6" stroke="#4a4a4a" stroke-width="0.7" stroke-opacity="0.9"/>
<line x1="354.95" y1="260.23" x2="357.15" y2="260.23" stroke="#4a4a4a" stroke-width="0.7" stroke-opacity="0.9"/>
<rect x="358.95" y="275.69" width="4.7" height="72.11" fill="#3a85b0" stroke="#666" stroke-width="0.4"/>
<line x1="361.3" y1="273.37" x2="361.3" y2="278.02" stroke="#4a4a4a" stroke-width="0.7" stroke-opacity="0.9"/>
<line x1="360.2" y1="273.37" x2="362.4" y2="273.37" stroke="#4a4a4a" stroke-width="0.7" stroke-opacity="0.9"/>
<line x1="360.2" y1="278.02" x2="362.4" y2="278.02" stroke="#4a4a4a" stroke-width="0.7" stroke-opacity="0.9"/>
<rect x="370.95" y="283.14" width="4.7" height="64.66" fill="#a47aaf" stroke="#666" stroke-width="0.4"/>
<line x1="373.3" y1="273.72" x2="373.3" y2="292.79" stroke="#4a4a4a" stroke-width="0.7" stroke-opacity="0.9"/>
<line x1="372.2" y1="273.72" x2="374.4" y2="273.72" stroke="#4a4a4a" stroke-width="0.7" stroke-opacity="0.9"/>
<line x1="372.2" y1="292.79" x2="374.4" y2="292.79" stroke="#4a4a4a" stroke-width="0.7" stroke-opacity="0.9"/>
<rect x="376.2" y="261.04" width="4.7" height="86.76" fill="#d64541" stroke="#666" stroke-width="0.4"/>
<line x1="378.55" y1="256.27" x2="378.55" y2="265.81" stroke="#4a4a4a" stroke-width="0.7" stroke-opacity="0.9"/>
<line x1="377.45" y1="256.27" x2="379.65" y2="256.27" stroke="#4a4a4a" stroke-width="0.7" stroke-opacity="0.9"/>
<line x1="377.45" y1="265.81" x2="379.65" y2="265.81" stroke="#4a4a4a" stroke-width="0.7" stroke-opacity="0.9"/>
<rect x="381.45" y="273.72" width="4.7" height="74.08" fill="#3a85b0" stroke="#666" stroke-width="0.4"/>
<line x1="383.8" y1="271.27" x2="383.8" y2="276.04" stroke="#4a4a4a" stroke-width="0.7" stroke-opacity="0.9"/>
<line x1="382.7" y1="271.27" x2="384.9" y2="271.27" stroke="#4a4a4a" stroke-width="0.7" stroke-opacity="0.9"/>
<line x1="382.7" y1="276.04" x2="384.9" y2="276.04" stroke="#4a4a4a" stroke-width="0.7" stroke-opacity="0.9"/>
<rect x="393.45" y="334.54" width="4.7" height="13.26" fill="#a47aaf" stroke="#666" stroke-width="0.4"/>
<line x1="395.8" y1="329.42" x2="395.8" y2="339.54" stroke="#4a4a4a" stroke-width="0.7" stroke-opacity="0.9"/>
<line x1="394.7" y1="329.42" x2="396.9" y2="329.42" stroke="#4a4a4a" stroke-width="0.7" stroke-opacity="0.9"/>
<line x1="394.7" y1="339.54" x2="396.9" y2="339.54" stroke="#4a4a4a" stroke-width="0.7" stroke-opacity="0.9"/>
<rect x="398.7" y="276.86" width="4.7" height="70.94" fill="#d64541" stroke="#666" stroke-width="0.4"/>
<line x1="401.05" y1="276.39" x2="401.05" y2="277.32" stroke="#4a4a4a" stroke-width="0.7" stroke-opacity="0.9"/>
<line x1="399.95" y1="276.39" x2="402.15" y2="276.39" stroke="#4a4a4a" stroke-width="0.7" stroke-opacity="0.9"/>
<line x1="399.95" y1="277.32" x2="402.15" y2="277.32" stroke="#4a4a4a" stroke-width="0.7" stroke-opacity="0.9"/>
<rect x="403.95" y="266.16" width="4.7" height="81.64" fill="#3a85b0" stroke="#666" stroke-width="0.4"/>
<line x1="406.3" y1="263.48" x2="406.3" y2="268.83" stroke="#4a4a4a" stroke-width="0.7" stroke-opacity="0.9"/>
<line x1="405.2" y1="263.48" x2="407.4" y2="263.48" stroke="#4a4a4a" stroke-width="0.7" stroke-opacity="0.9"/>
<line x1="405.2" y1="268.83" x2="407.4" y2="268.83" stroke="#4a4a4a" stroke-width="0.7" stroke-opacity="0.9"/>
<rect x="415.95" y="343.85" width="4.7" height="3.95" fill="#a47aaf" stroke="#666" stroke-width="0.4"/>
<line x1="418.3" y1="342.45" x2="418.3" y2="345.24" stroke="#4a4a4a" stroke-width="0.7" stroke-opacity="0.9"/>
<line x1="417.2" y1="342.45" x2="419.4" y2="342.45" stroke="#4a4a4a" stroke-width="0.7" stroke-opacity="0.9"/>
<line x1="417.2" y1="345.24" x2="419.4" y2="345.24" stroke="#4a4a4a" stroke-width="0.7" stroke-opacity="0.9"/>
<rect x="421.2" y="335.36" width="4.7" height="12.44" fill="#d64541" stroke="#666" stroke-width="0.4"/>
<line x1="423.55" y1="327.8" x2="423.55" y2="342.57" stroke="#4a4a4a" stroke-width="0.7" stroke-opacity="0.9"/>
<line x1="422.45" y1="327.8" x2="424.65" y2="327.8" stroke="#4a4a4a" stroke-width="0.7" stroke-opacity="0.9"/>
<line x1="422.45" y1="342.57" x2="424.65" y2="342.57" stroke="#4a4a4a" stroke-width="0.7" stroke-opacity="0.9"/>
<rect x="426.45" y="332.33" width="4.7" height="15.47" fill="#3a85b0" stroke="#666" stroke-width="0.4"/>
<line x1="428.8" y1="326.4" x2="428.8" y2="339.78" stroke="#4a4a4a" stroke-width="0.7" stroke-opacity="0.9"/>
<line x1="427.7" y1="326.4" x2="429.9" y2="326.4" stroke="#4a4a4a" stroke-width="0.7" stroke-opacity="0.9"/>
<line x1="427.7" y1="339.78" x2="429.9" y2="339.78" stroke="#4a4a4a" stroke-width="0.7" stroke-opacity="0.9"/>
<line x1="322.3" y1="347.8" x2="434.8" y2="347.8" stroke="#8a8a8a" stroke-width="0.85"/>
<line x1="322.3" y1="347.8" x2="322.3" y2="349.8" stroke="#8a8a8a" stroke-width="0.85"/>
<line x1="344.8" y1="347.8" x2="344.8" y2="349.8" stroke="#8a8a8a" stroke-width="0.85"/>
<line x1="367.3" y1="347.8" x2="367.3" y2="349.8" stroke="#8a8a8a" stroke-width="0.85"/>
<line x1="389.8" y1="347.8" x2="389.8" y2="349.8" stroke="#8a8a8a" stroke-width="0.85"/>
<line x1="412.3" y1="347.8" x2="412.3" y2="349.8" stroke="#8a8a8a" stroke-width="0.85"/>
<line x1="434.8" y1="347.8" x2="434.8" y2="349.8" stroke="#8a8a8a" stroke-width="0.85"/>
<text x="0" y="0" font-size="8.7" text-anchor="middle" fill="#231f20" stroke="#231f20" stroke-width="0.1" transform="translate(333.55 359.8) skewX(0.1) scale(0.95 1)">0</text>
<text x="0" y="0" font-size="8.7" text-anchor="middle" fill="#231f20" stroke="#231f20" stroke-width="0.1" transform="translate(356.05 359.8) skewX(0.1) scale(0.95 1)">0.12</text>
<text x="0" y="0" font-size="8.7" text-anchor="middle" fill="#231f20" stroke="#231f20" stroke-width="0.1" transform="translate(378.55 359.8) skewX(0.1) scale(0.95 1)">0.25</text>
<text x="0" y="0" font-size="8.7" text-anchor="middle" fill="#231f20" stroke="#231f20" stroke-width="0.1" transform="translate(401.05 359.8) skewX(0.1) scale(0.95 1)">0.5</text>
<text x="0" y="0" font-size="8.7" text-anchor="middle" fill="#231f20" stroke="#231f20" stroke-width="0.1" transform="translate(423.55 359.8) skewX(0.1) scale(0.95 1)">1</text>
<text x="0" y="0" font-size="9.2" text-anchor="middle" fill="#231f20" stroke="#231f20" stroke-width="0.2" transform="translate(378.5 374.1) skewX(0.1)">DTPMP (mM)</text>
<text x="0" y="0" font-size="9.2" text-anchor="middle" fill="#231f20" stroke="#231f20" stroke-width="0.2" transform="translate(300 277.4) rotate(-90) skewX(0.1)">Growth (%)</text>
<line x1="481.4" y1="347.6" x2="481.4" y2="208.5" stroke="#c4c4c4" stroke-width="1.2"/>
<line x1="479.2" y1="347.6" x2="481.4" y2="347.6" stroke="#c4c4c4" stroke-width="1.2"/>
<text x="0" y="0" font-size="8.7" text-anchor="end" fill="#231f20" stroke="#231f20" stroke-width="0.1" transform="translate(476 350.2) skewX(0.1) scale(0.95 1)">0</text>
<line x1="479.2" y1="319.78" x2="481.4" y2="319.78" stroke="#c4c4c4" stroke-width="1.2"/>
<text x="0" y="0" font-size="8.7" text-anchor="end" fill="#231f20" stroke="#231f20" stroke-width="0.1" transform="translate(476 322.38) skewX(0.1) scale(0.95 1)">0.05</text>
<line x1="479.2" y1="291.96" x2="481.4" y2="291.96" stroke="#c4c4c4" stroke-width="1.2"/>
<text x="0" y="0" font-size="8.7" text-anchor="end" fill="#231f20" stroke="#231f20" stroke-width="0.1" transform="translate(476 294.56) skewX(0.1) scale(0.95 1)">0.10</text>
<line x1="479.2" y1="264.14" x2="481.4" y2="264.14" stroke="#c4c4c4" stroke-width="1.2"/>
<text x="0" y="0" font-size="8.7" text-anchor="end" fill="#231f20" stroke="#231f20" stroke-width="0.1" transform="translate(476 266.74) skewX(0.1) scale(0.95 1)">0.15</text>
<line x1="479.2" y1="236.32" x2="481.4" y2="236.32" stroke="#c4c4c4" stroke-width="1.2"/>
<text x="0" y="0" font-size="8.7" text-anchor="end" fill="#231f20" stroke="#231f20" stroke-width="0.1" transform="translate(476 238.92) skewX(0.1) scale(0.95 1)">0.20</text>
<line x1="479.2" y1="208.5" x2="481.4" y2="208.5" stroke="#c4c4c4" stroke-width="1.2"/>
<text x="0" y="0" font-size="8.7" text-anchor="end" fill="#231f20" stroke="#231f20" stroke-width="0.1" transform="translate(476 211.1) skewX(0.1) scale(0.95 1)">0.25</text>
<line x1="480.1" y1="333.69" x2="481.4" y2="333.69" stroke="#c4c4c4" stroke-width="1.2"/>
<line x1="480.1" y1="305.87" x2="481.4" y2="305.87" stroke="#c4c4c4" stroke-width="1.2"/>
<line x1="480.1" y1="278.05" x2="481.4" y2="278.05" stroke="#c4c4c4" stroke-width="1.2"/>
<line x1="480.1" y1="250.23" x2="481.4" y2="250.23" stroke="#c4c4c4" stroke-width="1.2"/>
<line x1="480.1" y1="222.41" x2="481.4" y2="222.41" stroke="#c4c4c4" stroke-width="1.2"/>
<rect x="486.42" y="251.01" width="12.5" height="96.59" fill="#d9d9d9" stroke="#555" stroke-width="0.5"/>
<line x1="492.67" y1="247.78" x2="492.67" y2="254.4" stroke="#4a4a4a" stroke-width="0.7" stroke-opacity="0.9"/>
<line x1="491.17" y1="247.78" x2="494.17" y2="247.78" stroke="#4a4a4a" stroke-width="0.7" stroke-opacity="0.9"/>
<line x1="491.17" y1="254.4" x2="494.17" y2="254.4" stroke="#4a4a4a" stroke-width="0.7" stroke-opacity="0.9"/>
<rect x="508.98" y="292.63" width="12.5" height="54.97" fill="#a47aaf" stroke="#555" stroke-width="0.5"/>
<line x1="515.23" y1="275.49" x2="515.23" y2="309.32" stroke="#4a4a4a" stroke-width="0.7" stroke-opacity="0.9"/>
<line x1="513.73" y1="275.49" x2="516.73" y2="275.49" stroke="#4a4a4a" stroke-width="0.7" stroke-opacity="0.9"/>
<line x1="513.73" y1="309.32" x2="516.73" y2="309.32" stroke="#4a4a4a" stroke-width="0.7" stroke-opacity="0.9"/>
<rect x="531.52" y="343.98" width="12.5" height="3.62" fill="#d64541" stroke="#555" stroke-width="0.5"/>
<line x1="537.77" y1="341.09" x2="537.77" y2="347.04" stroke="#4a4a4a" stroke-width="0.7" stroke-opacity="0.9"/>
<line x1="536.27" y1="341.09" x2="539.27" y2="341.09" stroke="#4a4a4a" stroke-width="0.7" stroke-opacity="0.9"/>
<line x1="536.27" y1="347.04" x2="539.27" y2="347.04" stroke="#4a4a4a" stroke-width="0.7" stroke-opacity="0.9"/>
<polygon points="536,333.09 536.53,334.36 537.9,334.47 536.86,335.37 537.18,336.71 536,335.99 534.82,336.71 535.14,335.37 534.1,334.47 535.47,334.36" fill="#2a2a2a"/>
<polygon points="539.55,333.09 540.08,334.36 541.45,334.47 540.41,335.37 540.73,336.71 539.55,335.99 538.37,336.71 538.69,335.37 537.65,334.47 539.02,334.36" fill="#2a2a2a"/>
<rect x="554.07" y="325.51" width="12.5" height="22.09" fill="#3a85b0" stroke="#555" stroke-width="0.5"/>
<line x1="560.32" y1="322.9" x2="560.32" y2="328.4" stroke="#4a4a4a" stroke-width="0.7" stroke-opacity="0.9"/>
<line x1="558.82" y1="322.9" x2="561.82" y2="322.9" stroke="#4a4a4a" stroke-width="0.7" stroke-opacity="0.9"/>
<line x1="558.82" y1="328.4" x2="561.82" y2="328.4" stroke="#4a4a4a" stroke-width="0.7" stroke-opacity="0.9"/>
<polygon points="560.32,314.9 560.85,316.17 562.23,316.28 561.18,317.17 561.5,318.51 560.32,317.8 559.15,318.51 559.47,317.17 558.42,316.28 559.8,316.17" fill="#2a2a2a"/>
<line x1="481.4" y1="347.6" x2="571.6" y2="347.6" stroke="#c4c4c4" stroke-width="1.2"/>
<line x1="481.4" y1="347.6" x2="481.4" y2="349.6" stroke="#c4c4c4" stroke-width="1.2"/>
<line x1="503.95" y1="347.6" x2="503.95" y2="349.6" stroke="#c4c4c4" stroke-width="1.2"/>
<line x1="526.5" y1="347.6" x2="526.5" y2="349.6" stroke="#c4c4c4" stroke-width="1.2"/>
<line x1="549.05" y1="347.6" x2="549.05" y2="349.6" stroke="#c4c4c4" stroke-width="1.2"/>
<line x1="571.6" y1="347.6" x2="571.6" y2="349.6" stroke="#c4c4c4" stroke-width="1.2"/>
<text x="0" y="0" font-size="8.2" text-anchor="end" fill="#231f20" stroke="#231f20" stroke-width="0.2" transform="translate(495.67 353.8) rotate(-90) skewX(0.1)">Control</text>
<text x="0" y="0" font-size="8.2" text-anchor="end" fill="#231f20" stroke="#231f20" stroke-width="0.2" transform="translate(518.23 353.8) rotate(-90) skewX(0.1)">WT</text>
<text x="0" y="0" font-size="8.2" text-anchor="end" fill="#231f20" stroke="#231f20" stroke-width="0.2" font-style="italic" transform="translate(540.77 353.8) rotate(-90) skewX(0.1)">fmtA</text>
<text x="0" y="0" font-size="8.2" text-anchor="end" fill="#231f20" stroke="#231f20" stroke-width="0.2" font-style="italic" transform="translate(563.32 353.8) rotate(-90) skewX(0.1)">vraF</text>
<text x="0" y="0" font-size="9.2" text-anchor="middle" fill="#231f20" stroke="#231f20" stroke-width="0.2" transform="translate(450.6 277.6) rotate(-90) skewX(0.1)">Absorbance (440 nm)</text>
<rect x="540" y="212.4" width="5.2" height="5.2" fill="#a47aaf" stroke="#555" stroke-width="0.5"/>
<text x="0" y="0" font-size="8" text-anchor="start" fill="#231f20" stroke="#231f20" stroke-width="0.12" transform="translate(549.9 217.8) skewX(0.1)">WT</text>
<rect x="540" y="223.3" width="5.2" height="5.2" fill="#d64541" stroke="#555" stroke-width="0.5"/>
<text x="0" y="0" font-size="8" text-anchor="start" fill="#231f20" stroke="#231f20" stroke-width="0.12" font-style="italic" transform="translate(549.9 228.7) skewX(0.1)">fmtA</text>
<rect x="540" y="234.2" width="5.2" height="5.2" fill="#3a85b0" stroke="#555" stroke-width="0.5"/>
<text x="0" y="0" font-size="8" text-anchor="start" fill="#231f20" stroke="#231f20" stroke-width="0.12" font-style="italic" transform="translate(549.9 239.6) skewX(0.1)">vraF</text>
<line x1="616.7" y1="347.3" x2="616.7" y2="208.22" stroke="#c4c4c4" stroke-width="1.1"/>
<line x1="614.5" y1="347.3" x2="616.7" y2="347.3" stroke="#c4c4c4" stroke-width="1.1"/>
<text x="0" y="0" font-size="8.7" text-anchor="end" fill="#231f20" stroke="#231f20" stroke-width="0.1" transform="translate(612.5 349.9) skewX(0.1) scale(0.95 1)">0</text>
<line x1="614.5" y1="324.12" x2="616.7" y2="324.12" stroke="#c4c4c4" stroke-width="1.1"/>
<text x="0" y="0" font-size="8.7" text-anchor="end" fill="#231f20" stroke="#231f20" stroke-width="0.1" transform="translate(612.5 326.72) skewX(0.1) scale(0.95 1)">10</text>
<line x1="614.5" y1="300.94" x2="616.7" y2="300.94" stroke="#c4c4c4" stroke-width="1.1"/>
<text x="0" y="0" font-size="8.7" text-anchor="end" fill="#231f20" stroke="#231f20" stroke-width="0.1" transform="translate(612.5 303.54) skewX(0.1) scale(0.95 1)">20</text>
<line x1="614.5" y1="277.76" x2="616.7" y2="277.76" stroke="#c4c4c4" stroke-width="1.1"/>
<text x="0" y="0" font-size="8.7" text-anchor="end" fill="#231f20" stroke="#231f20" stroke-width="0.1" transform="translate(612.5 280.36) skewX(0.1) scale(0.95 1)">30</text>
<line x1="614.5" y1="254.58" x2="616.7" y2="254.58" stroke="#c4c4c4" stroke-width="1.1"/>
<text x="0" y="0" font-size="8.7" text-anchor="end" fill="#231f20" stroke="#231f20" stroke-width="0.1" transform="translate(612.5 257.18) skewX(0.1) scale(0.95 1)">40</text>
<line x1="614.5" y1="231.4" x2="616.7" y2="231.4" stroke="#c4c4c4" stroke-width="1.1"/>
<text x="0" y="0" font-size="8.7" text-anchor="end" fill="#231f20" stroke="#231f20" stroke-width="0.1" transform="translate(612.5 234) skewX(0.1) scale(0.95 1)">50</text>
<line x1="614.5" y1="208.22" x2="616.7" y2="208.22" stroke="#c4c4c4" stroke-width="1.1"/>
<text x="0" y="0" font-size="8.7" text-anchor="end" fill="#231f20" stroke="#231f20" stroke-width="0.1" transform="translate(612.5 210.82) skewX(0.1) scale(0.95 1)">60</text>
<line x1="615.4" y1="335.71" x2="616.7" y2="335.71" stroke="#c4c4c4" stroke-width="1.1"/>
<line x1="615.4" y1="312.53" x2="616.7" y2="312.53" stroke="#c4c4c4" stroke-width="1.1"/>
<line x1="615.4" y1="289.35" x2="616.7" y2="289.35" stroke="#c4c4c4" stroke-width="1.1"/>
<line x1="615.4" y1="266.17" x2="616.7" y2="266.17" stroke="#c4c4c4" stroke-width="1.1"/>
<line x1="615.4" y1="242.99" x2="616.7" y2="242.99" stroke="#c4c4c4" stroke-width="1.1"/>
<line x1="615.4" y1="219.81" x2="616.7" y2="219.81" stroke="#c4c4c4" stroke-width="1.1"/>
<rect x="621.65" y="215.17" width="12.5" height="132.13" fill="#a47aaf" stroke="#555" stroke-width="0.5"/>
<line x1="627.9" y1="208.22" x2="627.9" y2="221.66" stroke="#4a4a4a" stroke-width="0.7" stroke-opacity="0.9"/>
<line x1="626.4" y1="208.22" x2="629.4" y2="208.22" stroke="#4a4a4a" stroke-width="0.7" stroke-opacity="0.9"/>
<line x1="626.4" y1="221.66" x2="629.4" y2="221.66" stroke="#4a4a4a" stroke-width="0.7" stroke-opacity="0.9"/>
<rect x="644.05" y="266.4" width="12.5" height="80.9" fill="#d64541" stroke="#555" stroke-width="0.5"/>
<line x1="650.3" y1="261.07" x2="650.3" y2="271.73" stroke="#4a4a4a" stroke-width="0.7" stroke-opacity="0.9"/>
<line x1="648.8" y1="261.07" x2="651.8" y2="261.07" stroke="#4a4a4a" stroke-width="0.7" stroke-opacity="0.9"/>
<line x1="648.8" y1="271.73" x2="651.8" y2="271.73" stroke="#4a4a4a" stroke-width="0.7" stroke-opacity="0.9"/>
<polygon points="646.75,253.07 647.28,254.34 648.65,254.45 647.61,255.35 647.93,256.69 646.75,255.97 645.57,256.69 645.89,255.35 644.85,254.45 646.22,254.34" fill="#2a2a2a"/>
<polygon points="650.3,253.07 650.83,254.34 652.2,254.45 651.16,255.35 651.48,256.69 650.3,255.97 649.12,256.69 649.44,255.35 648.4,254.45 649.77,254.34" fill="#2a2a2a"/>
<polygon points="653.85,253.07 654.38,254.34 655.75,254.45 654.71,255.35 655.03,256.69 653.85,255.97 652.67,256.69 652.99,255.35 651.95,254.45 653.32,254.34" fill="#2a2a2a"/>
<rect x="666.45" y="246.47" width="12.5" height="100.83" fill="#3a85b0" stroke="#555" stroke-width="0.5"/>
<line x1="672.7" y1="236.5" x2="672.7" y2="256.43" stroke="#4a4a4a" stroke-width="0.7" stroke-opacity="0.9"/>
<line x1="671.2" y1="236.5" x2="674.2" y2="236.5" stroke="#4a4a4a" stroke-width="0.7" stroke-opacity="0.9"/>
<line x1="671.2" y1="256.43" x2="674.2" y2="256.43" stroke="#4a4a4a" stroke-width="0.7" stroke-opacity="0.9"/>
<polygon points="670.93,228.5 671.45,229.77 672.83,229.88 671.78,230.78 672.1,232.12 670.93,231.4 669.75,232.12 670.07,230.78 669.02,229.88 670.4,229.77" fill="#2a2a2a"/>
<polygon points="674.48,228.5 675,229.77 676.38,229.88 675.33,230.78 675.65,232.12 674.48,231.4 673.3,232.12 673.62,230.78 672.57,229.88 673.95,229.77" fill="#2a2a2a"/>
<line x1="616.7" y1="347.3" x2="683.9" y2="347.3" stroke="#c4c4c4" stroke-width="1.1"/>
<line x1="616.7" y1="347.3" x2="616.7" y2="349.3" stroke="#c4c4c4" stroke-width="1.1"/>
<line x1="639.1" y1="347.3" x2="639.1" y2="349.3" stroke="#c4c4c4" stroke-width="1.1"/>
<line x1="661.5" y1="347.3" x2="661.5" y2="349.3" stroke="#c4c4c4" stroke-width="1.1"/>
<line x1="683.9" y1="347.3" x2="683.9" y2="349.3" stroke="#c4c4c4" stroke-width="1.1"/>
<text x="0" y="0" font-size="8.2" text-anchor="end" fill="#231f20" stroke="#231f20" stroke-width="0.2" transform="translate(630.9 353.5) rotate(-90) skewX(0.1)">WT</text>
<text x="0" y="0" font-size="8.2" text-anchor="end" fill="#231f20" stroke="#231f20" stroke-width="0.2" font-style="italic" transform="translate(653.3 353.5) rotate(-90) skewX(0.1)">fmtA</text>
<text x="0" y="0" font-size="8.2" text-anchor="end" fill="#231f20" stroke="#231f20" stroke-width="0.2" font-style="italic" transform="translate(675.7 353.5) rotate(-90) skewX(0.1)">vraF</text>
<text x="0" y="0" font-size="9.2" text-anchor="start" fill="#231f20" stroke="#231f20" stroke-width="0.2" transform="translate(595 335.6) rotate(-90) skewX(0.1)"><tspan font-size="8.1">D</tspan>-Ala (nmol / mg dried cells)</text>
</g></svg></body></html>
